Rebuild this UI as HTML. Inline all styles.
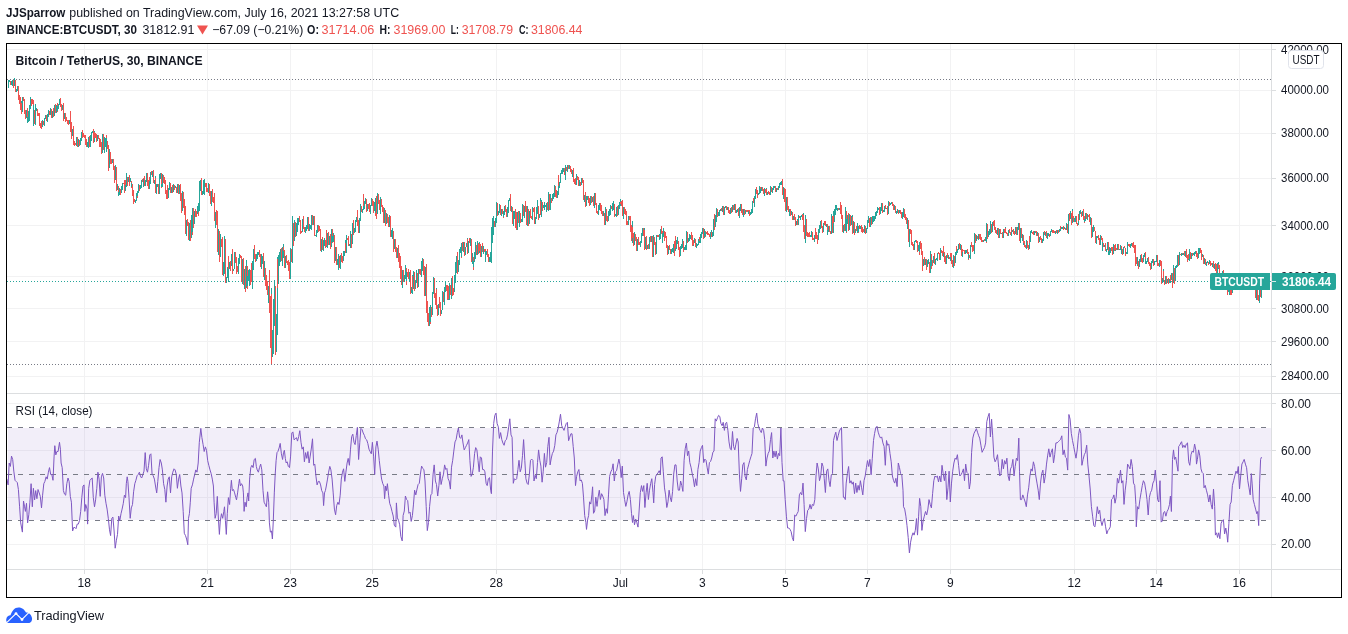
<!DOCTYPE html><html><head><meta charset="utf-8"><title>BTCUSDT chart</title><style>html,body{margin:0;padding:0;background:#fff;}svg{display:block;}text{font-family:'Liberation Sans', Arial, sans-serif;}</style></head><body>
<svg width="1348" height="634" viewBox="0 0 1348 634">
<rect width="1348" height="634" fill="#fff"/>
<path d="M84.5 44V569M207.5 44V569M290.5 44V569M372.5 44V569M496.5 44V569M620.5 44V569M702.5 44V569M785.5 44V569M867.5 44V569M950.5 44V569M1074.5 44V569M1156.5 44V569M1239.5 44V569M7 49.5H1271M7 90.5H1271M7 133.5H1271M7 178.5H1271M7 225.5H1271M7 276.5H1271M7 308.5H1271M7 341.5H1271M7 376.5H1271M7 403.5H1271M7 450.5H1271M7 497.5H1271M7 544.5H1271" stroke="#f2f2f3" stroke-width="1" fill="none" shape-rendering="crispEdges"/>
<rect x="8" y="428" width="1263" height="92" fill="#7e57c2" fill-opacity="0.1"/>
<path d="M7 427.5H1267" stroke="#787b86" stroke-width="1" stroke-dasharray="5 6" shape-rendering="crispEdges"/>
<path d="M7 474.5H1267" stroke="#787b86" stroke-width="1" stroke-dasharray="5 6" shape-rendering="crispEdges"/>
<path d="M7 520.5H1267" stroke="#787b86" stroke-width="1" stroke-dasharray="5 6" shape-rendering="crispEdges"/>
<path d="M7 79.5H1271M7 364.5H1271" stroke="#787b86" stroke-width="1" stroke-dasharray="1 2" shape-rendering="crispEdges"/>
<path d="M7 281.5H1271" stroke="#26a69a" stroke-width="1" stroke-dasharray="1 2" shape-rendering="crispEdges"/>
<path d="M8.5 84.4V88.0M8.5 80.0V86.1M9.5 79.5V81.9" stroke="#26a69a" fill="none" shape-rendering="crispEdges"/>
<path d="M10.5 81.0V84.8" stroke="#ef5350" fill="none" shape-rendering="crispEdges"/>
<path d="M11.5 81.4V84.9M12.5 79.9V85.8" stroke="#26a69a" fill="none" shape-rendering="crispEdges"/>
<path d="M13.5 80.4V87.6" stroke="#ef5350" fill="none" shape-rendering="crispEdges"/>
<path d="M14.5 78.4V85.9" stroke="#26a69a" fill="none" shape-rendering="crispEdges"/>
<path d="M15.5 79.6V82.7M15.5 81.2V92.4" stroke="#ef5350" fill="none" shape-rendering="crispEdges"/>
<path d="M16.5 89.4V92.2M17.5 86.3V91.0" stroke="#26a69a" fill="none" shape-rendering="crispEdges"/>
<path d="M18.5 85.9V99.7M19.5 95.4V103.9M20.5 97.4V110.1" stroke="#ef5350" fill="none" shape-rendering="crispEdges"/>
<path d="M21.5 100.8V113.9" stroke="#26a69a" fill="none" shape-rendering="crispEdges"/>
<path d="M21.5 102.5V113.6" stroke="#ef5350" fill="none" shape-rendering="crispEdges"/>
<path d="M22.5 96.6V112.1" stroke="#26a69a" fill="none" shape-rendering="crispEdges"/>
<path d="M23.5 96.8V101.1M24.5 98.5V113.7M25.5 109.7V119.1" stroke="#ef5350" fill="none" shape-rendering="crispEdges"/>
<path d="M26.5 110.2V118.1" stroke="#26a69a" fill="none" shape-rendering="crispEdges"/>
<path d="M27.5 108.3V121.4" stroke="#ef5350" fill="none" shape-rendering="crispEdges"/>
<path d="M27.5 117.3V122.7M28.5 111.0V122.3M29.5 105.4V120.9M30.5 97.4V109.0" stroke="#26a69a" fill="none" shape-rendering="crispEdges"/>
<path d="M31.5 99.4V106.2M32.5 98.6V103.6M33.5 100.0V124.2" stroke="#ef5350" fill="none" shape-rendering="crispEdges"/>
<path d="M33.5 105.3V126.3" stroke="#26a69a" fill="none" shape-rendering="crispEdges"/>
<path d="M34.5 109.9V123.6" stroke="#ef5350" fill="none" shape-rendering="crispEdges"/>
<path d="M35.5 104.3V125.3M36.5 107.8V110.7" stroke="#26a69a" fill="none" shape-rendering="crispEdges"/>
<path d="M37.5 108.7V115.5M38.5 113.4V116.1M39.5 112.6V120.7M39.5 115.2V125.5M40.5 122.9V128.3M41.5 121.1V129.2" stroke="#ef5350" fill="none" shape-rendering="crispEdges"/>
<path d="M42.5 120.0V126.5" stroke="#26a69a" fill="none" shape-rendering="crispEdges"/>
<path d="M43.5 121.3V125.1" stroke="#ef5350" fill="none" shape-rendering="crispEdges"/>
<path d="M44.5 118.2V126.1M45.5 116.3V119.2M45.5 115.4V116.9" stroke="#26a69a" fill="none" shape-rendering="crispEdges"/>
<path d="M46.5 115.0V121.0" stroke="#ef5350" fill="none" shape-rendering="crispEdges"/>
<path d="M47.5 114.1V121.6M48.5 110.2V117.4" stroke="#26a69a" fill="none" shape-rendering="crispEdges"/>
<path d="M49.5 110.9V114.6" stroke="#ef5350" fill="none" shape-rendering="crispEdges"/>
<path d="M50.5 108.1V115.1" stroke="#26a69a" fill="none" shape-rendering="crispEdges"/>
<path d="M51.5 108.7V116.6M51.5 114.6V117.8" stroke="#ef5350" fill="none" shape-rendering="crispEdges"/>
<path d="M52.5 110.7V118.1" stroke="#26a69a" fill="none" shape-rendering="crispEdges"/>
<path d="M53.5 107.8V116.8" stroke="#ef5350" fill="none" shape-rendering="crispEdges"/>
<path d="M54.5 104.6V115.5" stroke="#26a69a" fill="none" shape-rendering="crispEdges"/>
<path d="M55.5 104.2V113.0" stroke="#ef5350" fill="none" shape-rendering="crispEdges"/>
<path d="M56.5 104.5V113.0" stroke="#26a69a" fill="none" shape-rendering="crispEdges"/>
<path d="M57.5 102.7V112.2" stroke="#ef5350" fill="none" shape-rendering="crispEdges"/>
<path d="M57.5 106.3V111.3M58.5 103.8V108.5M59.5 99.1V105.4" stroke="#26a69a" fill="none" shape-rendering="crispEdges"/>
<path d="M60.5 98.4V107.4M61.5 103.5V110.6" stroke="#ef5350" fill="none" shape-rendering="crispEdges"/>
<path d="M62.5 104.8V109.7" stroke="#26a69a" fill="none" shape-rendering="crispEdges"/>
<path d="M63.5 104.8V108.4M63.5 103.1V120.5" stroke="#ef5350" fill="none" shape-rendering="crispEdges"/>
<path d="M64.5 113.0V118.8" stroke="#26a69a" fill="none" shape-rendering="crispEdges"/>
<path d="M65.5 112.7V121.7M66.5 116.7V121.3M67.5 119.5V124.2M68.5 119.9V124.9" stroke="#ef5350" fill="none" shape-rendering="crispEdges"/>
<path d="M69.5 120.1V124.0M70.5 111.1V127.3" stroke="#26a69a" fill="none" shape-rendering="crispEdges"/>
<path d="M70.5 111.0V132.1M71.5 122.2V138.8" stroke="#ef5350" fill="none" shape-rendering="crispEdges"/>
<path d="M72.5 128.7V136.4" stroke="#26a69a" fill="none" shape-rendering="crispEdges"/>
<path d="M73.5 125.5V145.3M74.5 140.6V146.4M75.5 142.9V145.0" stroke="#ef5350" fill="none" shape-rendering="crispEdges"/>
<path d="M76.5 137.5V145.9M76.5 136.5V138.7" stroke="#26a69a" fill="none" shape-rendering="crispEdges"/>
<path d="M77.5 136.7V147.0" stroke="#ef5350" fill="none" shape-rendering="crispEdges"/>
<path d="M78.5 138.7V146.8" stroke="#26a69a" fill="none" shape-rendering="crispEdges"/>
<path d="M79.5 140.1V145.6" stroke="#ef5350" fill="none" shape-rendering="crispEdges"/>
<path d="M80.5 138.2V144.7M81.5 132.3V140.9M82.5 129.6V134.7" stroke="#26a69a" fill="none" shape-rendering="crispEdges"/>
<path d="M82.5 130.0V137.7M83.5 132.8V136.8M84.5 135.3V138.4M85.5 135.1V145.1M86.5 138.9V146.9" stroke="#ef5350" fill="none" shape-rendering="crispEdges"/>
<path d="M87.5 142.2V146.8" stroke="#26a69a" fill="none" shape-rendering="crispEdges"/>
<path d="M88.5 142.1V146.8" stroke="#ef5350" fill="none" shape-rendering="crispEdges"/>
<path d="M88.5 136.5V147.7" stroke="#26a69a" fill="none" shape-rendering="crispEdges"/>
<path d="M89.5 136.2V147.4" stroke="#ef5350" fill="none" shape-rendering="crispEdges"/>
<path d="M90.5 135.2V147.4M91.5 132.1V140.8M92.5 130.6V132.8" stroke="#26a69a" fill="none" shape-rendering="crispEdges"/>
<path d="M93.5 129.1V143.2" stroke="#ef5350" fill="none" shape-rendering="crispEdges"/>
<path d="M94.5 131.1V142.2" stroke="#26a69a" fill="none" shape-rendering="crispEdges"/>
<path d="M94.5 131.7V138.1M95.5 133.0V137.9M96.5 133.6V142.3" stroke="#ef5350" fill="none" shape-rendering="crispEdges"/>
<path d="M97.5 134.5V141.4" stroke="#26a69a" fill="none" shape-rendering="crispEdges"/>
<path d="M98.5 135.2V138.7M99.5 137.7V146.6" stroke="#ef5350" fill="none" shape-rendering="crispEdges"/>
<path d="M100.5 142.0V146.1" stroke="#26a69a" fill="none" shape-rendering="crispEdges"/>
<path d="M100.5 139.4V146.7M101.5 142.4V154.3" stroke="#ef5350" fill="none" shape-rendering="crispEdges"/>
<path d="M102.5 134.4V152.8" stroke="#26a69a" fill="none" shape-rendering="crispEdges"/>
<path d="M103.5 134.3V149.9" stroke="#ef5350" fill="none" shape-rendering="crispEdges"/>
<path d="M104.5 136.8V153.3M105.5 138.4V146.8" stroke="#26a69a" fill="none" shape-rendering="crispEdges"/>
<path d="M106.5 134.9V149.9" stroke="#ef5350" fill="none" shape-rendering="crispEdges"/>
<path d="M106.5 137.9V152.1" stroke="#26a69a" fill="none" shape-rendering="crispEdges"/>
<path d="M107.5 141.1V148.9M108.5 144.7V170.8" stroke="#ef5350" fill="none" shape-rendering="crispEdges"/>
<path d="M109.5 148.8V167.8" stroke="#26a69a" fill="none" shape-rendering="crispEdges"/>
<path d="M110.5 151.7V164.3M111.5 159.4V163.6M112.5 161.1V162.6" stroke="#ef5350" fill="none" shape-rendering="crispEdges"/>
<path d="M112.5 159.4V163.1" stroke="#26a69a" fill="none" shape-rendering="crispEdges"/>
<path d="M113.5 159.0V169.9M114.5 166.4V183.2" stroke="#ef5350" fill="none" shape-rendering="crispEdges"/>
<path d="M115.5 164.8V180.2" stroke="#26a69a" fill="none" shape-rendering="crispEdges"/>
<path d="M116.5 166.8V191.1" stroke="#ef5350" fill="none" shape-rendering="crispEdges"/>
<path d="M117.5 183.7V190.3" stroke="#26a69a" fill="none" shape-rendering="crispEdges"/>
<path d="M118.5 186.3V196.3" stroke="#ef5350" fill="none" shape-rendering="crispEdges"/>
<path d="M118.5 192.4V196.3M119.5 187.7V195.3" stroke="#26a69a" fill="none" shape-rendering="crispEdges"/>
<path d="M120.5 188.9V195.1" stroke="#ef5350" fill="none" shape-rendering="crispEdges"/>
<path d="M121.5 186.3V193.0M122.5 183.1V189.7" stroke="#26a69a" fill="none" shape-rendering="crispEdges"/>
<path d="M123.5 182.8V184.3M124.5 180.4V192.5" stroke="#ef5350" fill="none" shape-rendering="crispEdges"/>
<path d="M125.5 179.7V191.3" stroke="#26a69a" fill="none" shape-rendering="crispEdges"/>
<path d="M125.5 180.0V184.5" stroke="#ef5350" fill="none" shape-rendering="crispEdges"/>
<path d="M126.5 172.9V187.2" stroke="#26a69a" fill="none" shape-rendering="crispEdges"/>
<path d="M127.5 176.8V186.3" stroke="#ef5350" fill="none" shape-rendering="crispEdges"/>
<path d="M128.5 176.6V182.0" stroke="#26a69a" fill="none" shape-rendering="crispEdges"/>
<path d="M129.5 175.2V185.6" stroke="#ef5350" fill="none" shape-rendering="crispEdges"/>
<path d="M130.5 177.6V182.3" stroke="#26a69a" fill="none" shape-rendering="crispEdges"/>
<path d="M131.5 180.9V188.3" stroke="#ef5350" fill="none" shape-rendering="crispEdges"/>
<path d="M131.5 183.3V187.3" stroke="#26a69a" fill="none" shape-rendering="crispEdges"/>
<path d="M132.5 183.5V195.7M133.5 190.4V203.8M134.5 198.8V202.4" stroke="#ef5350" fill="none" shape-rendering="crispEdges"/>
<path d="M135.5 200.1V202.5M136.5 192.9V200.8" stroke="#26a69a" fill="none" shape-rendering="crispEdges"/>
<path d="M137.5 190.5V198.1" stroke="#ef5350" fill="none" shape-rendering="crispEdges"/>
<path d="M137.5 191.3V195.6M138.5 183.6V193.0" stroke="#26a69a" fill="none" shape-rendering="crispEdges"/>
<path d="M139.5 184.6V191.2" stroke="#ef5350" fill="none" shape-rendering="crispEdges"/>
<path d="M140.5 184.9V189.3M141.5 180.2V187.5" stroke="#26a69a" fill="none" shape-rendering="crispEdges"/>
<path d="M142.5 178.8V181.9M143.5 178.4V185.5" stroke="#ef5350" fill="none" shape-rendering="crispEdges"/>
<path d="M143.5 178.8V186.9" stroke="#26a69a" fill="none" shape-rendering="crispEdges"/>
<path d="M144.5 176.1V185.6" stroke="#ef5350" fill="none" shape-rendering="crispEdges"/>
<path d="M145.5 180.4V186.3M146.5 173.4V182.1" stroke="#26a69a" fill="none" shape-rendering="crispEdges"/>
<path d="M147.5 172.7V186.1M148.5 180.2V188.6" stroke="#ef5350" fill="none" shape-rendering="crispEdges"/>
<path d="M149.5 177.5V189.0" stroke="#26a69a" fill="none" shape-rendering="crispEdges"/>
<path d="M149.5 177.4V181.4" stroke="#ef5350" fill="none" shape-rendering="crispEdges"/>
<path d="M150.5 172.2V184.0" stroke="#26a69a" fill="none" shape-rendering="crispEdges"/>
<path d="M151.5 171.1V174.9" stroke="#ef5350" fill="none" shape-rendering="crispEdges"/>
<path d="M152.5 171.0V177.4" stroke="#26a69a" fill="none" shape-rendering="crispEdges"/>
<path d="M153.5 170.0V183.2" stroke="#ef5350" fill="none" shape-rendering="crispEdges"/>
<path d="M154.5 179.8V183.8M155.5 175.6V182.4" stroke="#26a69a" fill="none" shape-rendering="crispEdges"/>
<path d="M155.5 178.4V192.5" stroke="#ef5350" fill="none" shape-rendering="crispEdges"/>
<path d="M156.5 183.9V193.8M157.5 184.3V187.3" stroke="#26a69a" fill="none" shape-rendering="crispEdges"/>
<path d="M158.5 184.3V194.1" stroke="#ef5350" fill="none" shape-rendering="crispEdges"/>
<path d="M159.5 174.4V193.7M160.5 172.7V179.3" stroke="#26a69a" fill="none" shape-rendering="crispEdges"/>
<path d="M161.5 173.4V187.8" stroke="#ef5350" fill="none" shape-rendering="crispEdges"/>
<path d="M161.5 183.8V186.9M162.5 173.7V187.1" stroke="#26a69a" fill="none" shape-rendering="crispEdges"/>
<path d="M163.5 175.0V182.7M164.5 177.1V183.8M165.5 179.7V193.7M166.5 190.1V199.0" stroke="#ef5350" fill="none" shape-rendering="crispEdges"/>
<path d="M167.5 186.4V198.0" stroke="#26a69a" fill="none" shape-rendering="crispEdges"/>
<path d="M167.5 185.4V199.4" stroke="#ef5350" fill="none" shape-rendering="crispEdges"/>
<path d="M168.5 187.7V198.0M169.5 181.5V189.7" stroke="#26a69a" fill="none" shape-rendering="crispEdges"/>
<path d="M170.5 183.2V193.4" stroke="#ef5350" fill="none" shape-rendering="crispEdges"/>
<path d="M171.5 187.0V193.3" stroke="#26a69a" fill="none" shape-rendering="crispEdges"/>
<path d="M172.5 185.2V192.9" stroke="#ef5350" fill="none" shape-rendering="crispEdges"/>
<path d="M173.5 185.1V192.4M173.5 184.1V187.8" stroke="#26a69a" fill="none" shape-rendering="crispEdges"/>
<path d="M174.5 185.0V189.5" stroke="#ef5350" fill="none" shape-rendering="crispEdges"/>
<path d="M175.5 186.3V187.8" stroke="#26a69a" fill="none" shape-rendering="crispEdges"/>
<path d="M176.5 186.7V192.5" stroke="#ef5350" fill="none" shape-rendering="crispEdges"/>
<path d="M177.5 184.1V193.4" stroke="#26a69a" fill="none" shape-rendering="crispEdges"/>
<path d="M178.5 184.3V194.2" stroke="#ef5350" fill="none" shape-rendering="crispEdges"/>
<path d="M179.5 185.0V193.9M180.5 186.0V187.5" stroke="#26a69a" fill="none" shape-rendering="crispEdges"/>
<path d="M180.5 184.2V201.3M181.5 193.1V213.3" stroke="#ef5350" fill="none" shape-rendering="crispEdges"/>
<path d="M182.5 191.0V211.1" stroke="#26a69a" fill="none" shape-rendering="crispEdges"/>
<path d="M183.5 192.1V207.8M184.5 198.8V215.2M185.5 205.5V233.8" stroke="#ef5350" fill="none" shape-rendering="crispEdges"/>
<path d="M186.5 228.2V232.5M186.5 219.5V236.1" stroke="#26a69a" fill="none" shape-rendering="crispEdges"/>
<path d="M187.5 218.5V226.4M188.5 221.5V239.9" stroke="#ef5350" fill="none" shape-rendering="crispEdges"/>
<path d="M189.5 222.5V241.0" stroke="#26a69a" fill="none" shape-rendering="crispEdges"/>
<path d="M190.5 219.7V240.6" stroke="#ef5350" fill="none" shape-rendering="crispEdges"/>
<path d="M191.5 214.7V237.9" stroke="#26a69a" fill="none" shape-rendering="crispEdges"/>
<path d="M192.5 212.1V234.6" stroke="#ef5350" fill="none" shape-rendering="crispEdges"/>
<path d="M192.5 208.4V231.8" stroke="#26a69a" fill="none" shape-rendering="crispEdges"/>
<path d="M193.5 207.5V228.0" stroke="#ef5350" fill="none" shape-rendering="crispEdges"/>
<path d="M194.5 211.2V224.1" stroke="#26a69a" fill="none" shape-rendering="crispEdges"/>
<path d="M195.5 209.4V216.5M196.5 210.9V216.8" stroke="#ef5350" fill="none" shape-rendering="crispEdges"/>
<path d="M197.5 206.3V214.1" stroke="#26a69a" fill="none" shape-rendering="crispEdges"/>
<path d="M198.5 207.5V215.6" stroke="#ef5350" fill="none" shape-rendering="crispEdges"/>
<path d="M198.5 203.1V212.3M199.5 181.1V210.9M200.5 180.0V190.9" stroke="#26a69a" fill="none" shape-rendering="crispEdges"/>
<path d="M201.5 177.6V194.6" stroke="#ef5350" fill="none" shape-rendering="crispEdges"/>
<path d="M202.5 190.5V194.8M203.5 180.4V194.0" stroke="#26a69a" fill="none" shape-rendering="crispEdges"/>
<path d="M204.5 183.4V193.4" stroke="#ef5350" fill="none" shape-rendering="crispEdges"/>
<path d="M204.5 178.8V195.1" stroke="#26a69a" fill="none" shape-rendering="crispEdges"/>
<path d="M205.5 182.6V187.0M206.5 183.3V191.8M207.5 187.6V191.9" stroke="#ef5350" fill="none" shape-rendering="crispEdges"/>
<path d="M208.5 183.4V192.5" stroke="#26a69a" fill="none" shape-rendering="crispEdges"/>
<path d="M209.5 184.0V195.7M210.5 191.2V196.9M210.5 194.8V203.9" stroke="#ef5350" fill="none" shape-rendering="crispEdges"/>
<path d="M211.5 191.0V205.8" stroke="#26a69a" fill="none" shape-rendering="crispEdges"/>
<path d="M212.5 188.7V202.1M213.5 196.5V202.7M214.5 193.0V220.5" stroke="#ef5350" fill="none" shape-rendering="crispEdges"/>
<path d="M215.5 211.9V227.5M216.5 213.3V214.8" stroke="#26a69a" fill="none" shape-rendering="crispEdges"/>
<path d="M216.5 210.4V225.1M217.5 210.9V252.3" stroke="#ef5350" fill="none" shape-rendering="crispEdges"/>
<path d="M218.5 228.5V255.2" stroke="#26a69a" fill="none" shape-rendering="crispEdges"/>
<path d="M219.5 230.6V261.8" stroke="#ef5350" fill="none" shape-rendering="crispEdges"/>
<path d="M220.5 234.3V256.5" stroke="#26a69a" fill="none" shape-rendering="crispEdges"/>
<path d="M221.5 238.8V246.7M222.5 237.0V250.4M222.5 247.4V275.3" stroke="#ef5350" fill="none" shape-rendering="crispEdges"/>
<path d="M223.5 261.5V276.4M224.5 236.2V274.4" stroke="#26a69a" fill="none" shape-rendering="crispEdges"/>
<path d="M225.5 238.8V282.7" stroke="#ef5350" fill="none" shape-rendering="crispEdges"/>
<path d="M226.5 277.1V283.0M227.5 266.8V277.8M228.5 257.3V281.5" stroke="#26a69a" fill="none" shape-rendering="crispEdges"/>
<path d="M228.5 255.9V268.8" stroke="#ef5350" fill="none" shape-rendering="crispEdges"/>
<path d="M229.5 261.6V268.9" stroke="#26a69a" fill="none" shape-rendering="crispEdges"/>
<path d="M230.5 261.2V271.3" stroke="#ef5350" fill="none" shape-rendering="crispEdges"/>
<path d="M231.5 254.4V265.9" stroke="#26a69a" fill="none" shape-rendering="crispEdges"/>
<path d="M232.5 249.2V274.4" stroke="#ef5350" fill="none" shape-rendering="crispEdges"/>
<path d="M233.5 268.6V270.7M234.5 251.5V269.2" stroke="#26a69a" fill="none" shape-rendering="crispEdges"/>
<path d="M235.5 255.4V259.8M235.5 251.5V263.0M236.5 257.4V274.4M237.5 266.3V271.6" stroke="#ef5350" fill="none" shape-rendering="crispEdges"/>
<path d="M238.5 258.1V274.1M239.5 253.9V264.3" stroke="#26a69a" fill="none" shape-rendering="crispEdges"/>
<path d="M240.5 254.7V258.3M241.5 256.4V269.0M241.5 256.4V281.8" stroke="#ef5350" fill="none" shape-rendering="crispEdges"/>
<path d="M242.5 259.3V284.1" stroke="#26a69a" fill="none" shape-rendering="crispEdges"/>
<path d="M243.5 257.6V284.8" stroke="#ef5350" fill="none" shape-rendering="crispEdges"/>
<path d="M244.5 268.5V288.8" stroke="#26a69a" fill="none" shape-rendering="crispEdges"/>
<path d="M245.5 266.0V291.8" stroke="#ef5350" fill="none" shape-rendering="crispEdges"/>
<path d="M246.5 260.0V288.1" stroke="#26a69a" fill="none" shape-rendering="crispEdges"/>
<path d="M247.5 266.2V289.3" stroke="#ef5350" fill="none" shape-rendering="crispEdges"/>
<path d="M247.5 275.5V285.5M248.5 269.9V281.2M249.5 269.0V285.5" stroke="#26a69a" fill="none" shape-rendering="crispEdges"/>
<path d="M250.5 270.1V284.7M251.5 263.0V282.3" stroke="#ef5350" fill="none" shape-rendering="crispEdges"/>
<path d="M252.5 260.6V288.8M253.5 267.0V269.8M253.5 249.0V267.1" stroke="#26a69a" fill="none" shape-rendering="crispEdges"/>
<path d="M254.5 245.1V258.5M255.5 254.3V262.2" stroke="#ef5350" fill="none" shape-rendering="crispEdges"/>
<path d="M256.5 253.5V261.3M257.5 252.0V258.5M258.5 252.0V255.4" stroke="#26a69a" fill="none" shape-rendering="crispEdges"/>
<path d="M259.5 250.2V255.9M259.5 253.3V256.5M260.5 254.4V266.5" stroke="#ef5350" fill="none" shape-rendering="crispEdges"/>
<path d="M261.5 254.4V268.8M262.5 256.2V263.6" stroke="#26a69a" fill="none" shape-rendering="crispEdges"/>
<path d="M263.5 252.7V276.9" stroke="#ef5350" fill="none" shape-rendering="crispEdges"/>
<path d="M264.5 261.3V279.8" stroke="#26a69a" fill="none" shape-rendering="crispEdges"/>
<path d="M265.5 268.0V286.4M265.5 275.7V283.8M266.5 275.2V290.4M267.5 281.1V295.0" stroke="#ef5350" fill="none" shape-rendering="crispEdges"/>
<path d="M268.5 286.3V302.8" stroke="#26a69a" fill="none" shape-rendering="crispEdges"/>
<path d="M269.5 270.3V312.6M270.5 296.0V348.4" stroke="#ef5350" fill="none" shape-rendering="crispEdges"/>
<path d="M271.5 288.4V357.5" stroke="#26a69a" fill="none" shape-rendering="crispEdges"/>
<path d="M271.5 293.7V363.9" stroke="#ef5350" fill="none" shape-rendering="crispEdges"/>
<path d="M272.5 329.5V356.8M273.5 299.0V353.6M274.5 280.3V326.3" stroke="#26a69a" fill="none" shape-rendering="crispEdges"/>
<path d="M275.5 286.1V354.7" stroke="#ef5350" fill="none" shape-rendering="crispEdges"/>
<path d="M276.5 313.9V351.8M277.5 256.7V335.3" stroke="#26a69a" fill="none" shape-rendering="crispEdges"/>
<path d="M277.5 258.7V287.9" stroke="#ef5350" fill="none" shape-rendering="crispEdges"/>
<path d="M278.5 254.7V283.5M279.5 252.1V266.3M280.5 249.4V262.2" stroke="#26a69a" fill="none" shape-rendering="crispEdges"/>
<path d="M281.5 248.2V260.7" stroke="#ef5350" fill="none" shape-rendering="crispEdges"/>
<path d="M282.5 247.4V266.2M283.5 243.9V258.2" stroke="#26a69a" fill="none" shape-rendering="crispEdges"/>
<path d="M283.5 247.0V251.1M284.5 250.3V268.0" stroke="#ef5350" fill="none" shape-rendering="crispEdges"/>
<path d="M285.5 256.4V267.8" stroke="#26a69a" fill="none" shape-rendering="crispEdges"/>
<path d="M286.5 255.2V263.2M287.5 260.7V264.6M288.5 259.7V270.9M289.5 262.3V279.0" stroke="#ef5350" fill="none" shape-rendering="crispEdges"/>
<path d="M290.5 258.4V279.1M290.5 248.0V266.3" stroke="#26a69a" fill="none" shape-rendering="crispEdges"/>
<path d="M291.5 248.7V262.1" stroke="#ef5350" fill="none" shape-rendering="crispEdges"/>
<path d="M292.5 215.8V263.1" stroke="#26a69a" fill="none" shape-rendering="crispEdges"/>
<path d="M293.5 223.4V245.8" stroke="#ef5350" fill="none" shape-rendering="crispEdges"/>
<path d="M294.5 220.1V240.9" stroke="#26a69a" fill="none" shape-rendering="crispEdges"/>
<path d="M295.5 222.2V236.7" stroke="#ef5350" fill="none" shape-rendering="crispEdges"/>
<path d="M296.5 231.4V236.3M296.5 223.4V236.2M297.5 218.1V232.0M298.5 217.6V225.4" stroke="#26a69a" fill="none" shape-rendering="crispEdges"/>
<path d="M299.5 215.8V221.6M300.5 219.5V234.1M301.5 230.6V233.2" stroke="#ef5350" fill="none" shape-rendering="crispEdges"/>
<path d="M302.5 223.2V232.1M302.5 219.0V228.7" stroke="#26a69a" fill="none" shape-rendering="crispEdges"/>
<path d="M303.5 216.3V228.6M304.5 227.4V231.7" stroke="#ef5350" fill="none" shape-rendering="crispEdges"/>
<path d="M305.5 226.5V232.9M306.5 225.0V231.0M307.5 217.3V229.3" stroke="#26a69a" fill="none" shape-rendering="crispEdges"/>
<path d="M308.5 216.6V222.9M308.5 219.3V231.2" stroke="#ef5350" fill="none" shape-rendering="crispEdges"/>
<path d="M309.5 223.9V230.5M310.5 225.4V229.3M311.5 215.4V229.9" stroke="#26a69a" fill="none" shape-rendering="crispEdges"/>
<path d="M312.5 215.3V225.4" stroke="#ef5350" fill="none" shape-rendering="crispEdges"/>
<path d="M313.5 216.1V224.6" stroke="#26a69a" fill="none" shape-rendering="crispEdges"/>
<path d="M314.5 216.3V228.5M314.5 225.8V236.2" stroke="#ef5350" fill="none" shape-rendering="crispEdges"/>
<path d="M315.5 234.5V236.0M316.5 229.5V236.8M317.5 225.2V233.4" stroke="#26a69a" fill="none" shape-rendering="crispEdges"/>
<path d="M318.5 225.2V231.9M319.5 225.9V230.8M320.5 229.2V235.3M320.5 230.6V250.9" stroke="#ef5350" fill="none" shape-rendering="crispEdges"/>
<path d="M321.5 239.2V252.3" stroke="#26a69a" fill="none" shape-rendering="crispEdges"/>
<path d="M322.5 237.3V250.0" stroke="#ef5350" fill="none" shape-rendering="crispEdges"/>
<path d="M323.5 240.1V250.5M324.5 237.7V245.5" stroke="#26a69a" fill="none" shape-rendering="crispEdges"/>
<path d="M325.5 240.0V247.9" stroke="#ef5350" fill="none" shape-rendering="crispEdges"/>
<path d="M326.5 230.6V246.6" stroke="#26a69a" fill="none" shape-rendering="crispEdges"/>
<path d="M326.5 230.4V245.8" stroke="#ef5350" fill="none" shape-rendering="crispEdges"/>
<path d="M327.5 233.1V247.8" stroke="#26a69a" fill="none" shape-rendering="crispEdges"/>
<path d="M328.5 232.3V245.2" stroke="#ef5350" fill="none" shape-rendering="crispEdges"/>
<path d="M329.5 235.7V244.5" stroke="#26a69a" fill="none" shape-rendering="crispEdges"/>
<path d="M330.5 233.6V249.0" stroke="#ef5350" fill="none" shape-rendering="crispEdges"/>
<path d="M331.5 228.9V247.1" stroke="#26a69a" fill="none" shape-rendering="crispEdges"/>
<path d="M332.5 229.2V242.6" stroke="#ef5350" fill="none" shape-rendering="crispEdges"/>
<path d="M332.5 236.2V241.7M333.5 232.6V242.4" stroke="#26a69a" fill="none" shape-rendering="crispEdges"/>
<path d="M334.5 235.1V263.0" stroke="#ef5350" fill="none" shape-rendering="crispEdges"/>
<path d="M335.5 246.7V260.5" stroke="#26a69a" fill="none" shape-rendering="crispEdges"/>
<path d="M336.5 247.4V265.0" stroke="#ef5350" fill="none" shape-rendering="crispEdges"/>
<path d="M337.5 258.5V264.5" stroke="#26a69a" fill="none" shape-rendering="crispEdges"/>
<path d="M338.5 262.6V267.8" stroke="#ef5350" fill="none" shape-rendering="crispEdges"/>
<path d="M338.5 254.0V269.7" stroke="#26a69a" fill="none" shape-rendering="crispEdges"/>
<path d="M339.5 255.6V268.1" stroke="#ef5350" fill="none" shape-rendering="crispEdges"/>
<path d="M340.5 255.1V268.7" stroke="#26a69a" fill="none" shape-rendering="crispEdges"/>
<path d="M341.5 252.9V261.6M342.5 256.2V262.8" stroke="#ef5350" fill="none" shape-rendering="crispEdges"/>
<path d="M343.5 250.7V261.0M344.5 250.6V255.5M345.5 240.4V253.4" stroke="#26a69a" fill="none" shape-rendering="crispEdges"/>
<path d="M345.5 242.6V252.6" stroke="#ef5350" fill="none" shape-rendering="crispEdges"/>
<path d="M346.5 235.3V253.0" stroke="#26a69a" fill="none" shape-rendering="crispEdges"/>
<path d="M347.5 238.1V239.6M348.5 236.2V246.3" stroke="#ef5350" fill="none" shape-rendering="crispEdges"/>
<path d="M349.5 243.5V245.8M350.5 230.6V247.7" stroke="#26a69a" fill="none" shape-rendering="crispEdges"/>
<path d="M351.5 234.2V247.6M351.5 236.4V244.3" stroke="#ef5350" fill="none" shape-rendering="crispEdges"/>
<path d="M352.5 223.0V243.5" stroke="#26a69a" fill="none" shape-rendering="crispEdges"/>
<path d="M353.5 220.2V235.0" stroke="#ef5350" fill="none" shape-rendering="crispEdges"/>
<path d="M354.5 227.7V233.2M355.5 220.0V231.9M356.5 217.1V222.1M357.5 211.4V219.9" stroke="#26a69a" fill="none" shape-rendering="crispEdges"/>
<path d="M357.5 210.4V226.0M358.5 220.0V232.7" stroke="#ef5350" fill="none" shape-rendering="crispEdges"/>
<path d="M359.5 218.4V232.5M360.5 203.5V221.3" stroke="#26a69a" fill="none" shape-rendering="crispEdges"/>
<path d="M361.5 206.1V212.3" stroke="#ef5350" fill="none" shape-rendering="crispEdges"/>
<path d="M362.5 208.8V212.9M363.5 197.4V209.9" stroke="#26a69a" fill="none" shape-rendering="crispEdges"/>
<path d="M363.5 193.6V205.5" stroke="#ef5350" fill="none" shape-rendering="crispEdges"/>
<path d="M364.5 200.6V208.6M365.5 198.4V203.7" stroke="#26a69a" fill="none" shape-rendering="crispEdges"/>
<path d="M366.5 199.3V211.6" stroke="#ef5350" fill="none" shape-rendering="crispEdges"/>
<path d="M367.5 203.9V210.6" stroke="#26a69a" fill="none" shape-rendering="crispEdges"/>
<path d="M368.5 204.2V208.8" stroke="#ef5350" fill="none" shape-rendering="crispEdges"/>
<path d="M369.5 202.5V208.9" stroke="#26a69a" fill="none" shape-rendering="crispEdges"/>
<path d="M369.5 203.3V211.6" stroke="#ef5350" fill="none" shape-rendering="crispEdges"/>
<path d="M370.5 204.7V213.5M371.5 197.9V206.0" stroke="#26a69a" fill="none" shape-rendering="crispEdges"/>
<path d="M372.5 199.2V206.4M373.5 200.7V212.8" stroke="#ef5350" fill="none" shape-rendering="crispEdges"/>
<path d="M374.5 201.7V211.3" stroke="#26a69a" fill="none" shape-rendering="crispEdges"/>
<path d="M375.5 199.4V216.1" stroke="#ef5350" fill="none" shape-rendering="crispEdges"/>
<path d="M375.5 198.3V213.2" stroke="#26a69a" fill="none" shape-rendering="crispEdges"/>
<path d="M376.5 196.0V219.3" stroke="#ef5350" fill="none" shape-rendering="crispEdges"/>
<path d="M377.5 192.7V214.0" stroke="#26a69a" fill="none" shape-rendering="crispEdges"/>
<path d="M378.5 194.4V203.8M379.5 200.3V210.4" stroke="#ef5350" fill="none" shape-rendering="crispEdges"/>
<path d="M380.5 197.4V213.9M381.5 199.7V202.3" stroke="#26a69a" fill="none" shape-rendering="crispEdges"/>
<path d="M381.5 198.9V206.5M382.5 204.9V212.1M383.5 207.4V222.5" stroke="#ef5350" fill="none" shape-rendering="crispEdges"/>
<path d="M384.5 208.4V223.0" stroke="#26a69a" fill="none" shape-rendering="crispEdges"/>
<path d="M385.5 209.7V225.7" stroke="#ef5350" fill="none" shape-rendering="crispEdges"/>
<path d="M386.5 213.3V224.1" stroke="#26a69a" fill="none" shape-rendering="crispEdges"/>
<path d="M387.5 214.5V217.2M387.5 214.4V222.9M388.5 217.4V227.0" stroke="#ef5350" fill="none" shape-rendering="crispEdges"/>
<path d="M389.5 215.2V227.3" stroke="#26a69a" fill="none" shape-rendering="crispEdges"/>
<path d="M390.5 216.2V236.9" stroke="#ef5350" fill="none" shape-rendering="crispEdges"/>
<path d="M391.5 229.6V236.6M392.5 227.5V238.9" stroke="#26a69a" fill="none" shape-rendering="crispEdges"/>
<path d="M393.5 230.7V252.4M393.5 244.1V251.4" stroke="#ef5350" fill="none" shape-rendering="crispEdges"/>
<path d="M394.5 239.1V249.4" stroke="#26a69a" fill="none" shape-rendering="crispEdges"/>
<path d="M395.5 238.5V252.2M396.5 246.5V257.5" stroke="#ef5350" fill="none" shape-rendering="crispEdges"/>
<path d="M397.5 247.6V257.6" stroke="#26a69a" fill="none" shape-rendering="crispEdges"/>
<path d="M398.5 244.7V261.8M399.5 253.0V268.0M400.5 255.6V265.7M400.5 263.9V278.5M401.5 266.4V285.3" stroke="#ef5350" fill="none" shape-rendering="crispEdges"/>
<path d="M402.5 269.6V288.4" stroke="#26a69a" fill="none" shape-rendering="crispEdges"/>
<path d="M403.5 270.3V281.8" stroke="#ef5350" fill="none" shape-rendering="crispEdges"/>
<path d="M404.5 274.5V282.4M405.5 265.3V278.8" stroke="#26a69a" fill="none" shape-rendering="crispEdges"/>
<path d="M406.5 268.3V284.5" stroke="#ef5350" fill="none" shape-rendering="crispEdges"/>
<path d="M406.5 271.7V280.9" stroke="#26a69a" fill="none" shape-rendering="crispEdges"/>
<path d="M407.5 272.0V276.8M408.5 269.3V278.7" stroke="#ef5350" fill="none" shape-rendering="crispEdges"/>
<path d="M409.5 272.4V281.7" stroke="#26a69a" fill="none" shape-rendering="crispEdges"/>
<path d="M410.5 270.4V293.5" stroke="#ef5350" fill="none" shape-rendering="crispEdges"/>
<path d="M411.5 287.3V293.3M412.5 275.0V293.5" stroke="#26a69a" fill="none" shape-rendering="crispEdges"/>
<path d="M412.5 276.0V289.5" stroke="#ef5350" fill="none" shape-rendering="crispEdges"/>
<path d="M413.5 271.3V288.5" stroke="#26a69a" fill="none" shape-rendering="crispEdges"/>
<path d="M414.5 272.2V290.8" stroke="#ef5350" fill="none" shape-rendering="crispEdges"/>
<path d="M415.5 279.6V289.0M416.5 270.2V283.0" stroke="#26a69a" fill="none" shape-rendering="crispEdges"/>
<path d="M417.5 272.7V288.1" stroke="#ef5350" fill="none" shape-rendering="crispEdges"/>
<path d="M418.5 274.5V287.2M418.5 268.8V277.7" stroke="#26a69a" fill="none" shape-rendering="crispEdges"/>
<path d="M419.5 268.9V274.2M420.5 269.0V275.2" stroke="#ef5350" fill="none" shape-rendering="crispEdges"/>
<path d="M421.5 261.1V276.8M422.5 257.5V270.6" stroke="#26a69a" fill="none" shape-rendering="crispEdges"/>
<path d="M423.5 259.4V274.5M424.5 270.8V272.3M424.5 265.8V295.6" stroke="#ef5350" fill="none" shape-rendering="crispEdges"/>
<path d="M425.5 267.0V296.2" stroke="#26a69a" fill="none" shape-rendering="crispEdges"/>
<path d="M426.5 264.3V313.1M427.5 300.5V321.6M428.5 313.1V326.1" stroke="#ef5350" fill="none" shape-rendering="crispEdges"/>
<path d="M429.5 306.7V326.1" stroke="#26a69a" fill="none" shape-rendering="crispEdges"/>
<path d="M430.5 312.7V324.4" stroke="#ef5350" fill="none" shape-rendering="crispEdges"/>
<path d="M430.5 304.8V322.2" stroke="#26a69a" fill="none" shape-rendering="crispEdges"/>
<path d="M431.5 306.7V316.5" stroke="#ef5350" fill="none" shape-rendering="crispEdges"/>
<path d="M432.5 292.3V315.0M433.5 277.2V294.3" stroke="#26a69a" fill="none" shape-rendering="crispEdges"/>
<path d="M434.5 277.6V297.5M435.5 293.3V304.8" stroke="#ef5350" fill="none" shape-rendering="crispEdges"/>
<path d="M436.5 287.6V304.7" stroke="#26a69a" fill="none" shape-rendering="crispEdges"/>
<path d="M436.5 288.6V308.7M437.5 304.6V315.6" stroke="#ef5350" fill="none" shape-rendering="crispEdges"/>
<path d="M438.5 303.5V315.0" stroke="#26a69a" fill="none" shape-rendering="crispEdges"/>
<path d="M439.5 297.3V307.8M440.5 301.9V315.9" stroke="#ef5350" fill="none" shape-rendering="crispEdges"/>
<path d="M441.5 309.7V314.2M442.5 299.0V310.0M442.5 290.6V303.8" stroke="#26a69a" fill="none" shape-rendering="crispEdges"/>
<path d="M443.5 291.9V302.1" stroke="#ef5350" fill="none" shape-rendering="crispEdges"/>
<path d="M444.5 286.6V304.6M445.5 282.1V292.2" stroke="#26a69a" fill="none" shape-rendering="crispEdges"/>
<path d="M446.5 285.1V291.0M447.5 285.4V300.4" stroke="#ef5350" fill="none" shape-rendering="crispEdges"/>
<path d="M448.5 287.2V300.0" stroke="#26a69a" fill="none" shape-rendering="crispEdges"/>
<path d="M448.5 285.7V299.3" stroke="#ef5350" fill="none" shape-rendering="crispEdges"/>
<path d="M449.5 282.8V300.0" stroke="#26a69a" fill="none" shape-rendering="crispEdges"/>
<path d="M450.5 284.8V294.7" stroke="#ef5350" fill="none" shape-rendering="crispEdges"/>
<path d="M451.5 277.5V298.9" stroke="#26a69a" fill="none" shape-rendering="crispEdges"/>
<path d="M452.5 276.0V295.7M453.5 287.5V294.9" stroke="#ef5350" fill="none" shape-rendering="crispEdges"/>
<path d="M454.5 274.5V291.5M455.5 274.5V283.2M455.5 262.0V276.6M456.5 256.2V272.9" stroke="#26a69a" fill="none" shape-rendering="crispEdges"/>
<path d="M457.5 251.7V274.4" stroke="#ef5350" fill="none" shape-rendering="crispEdges"/>
<path d="M458.5 260.2V271.7M459.5 248.9V265.4M460.5 247.3V253.1" stroke="#26a69a" fill="none" shape-rendering="crispEdges"/>
<path d="M461.5 248.9V257.8" stroke="#ef5350" fill="none" shape-rendering="crispEdges"/>
<path d="M461.5 243.0V257.1" stroke="#26a69a" fill="none" shape-rendering="crispEdges"/>
<path d="M462.5 241.6V251.3" stroke="#ef5350" fill="none" shape-rendering="crispEdges"/>
<path d="M463.5 241.6V251.8" stroke="#26a69a" fill="none" shape-rendering="crispEdges"/>
<path d="M464.5 241.7V255.5" stroke="#ef5350" fill="none" shape-rendering="crispEdges"/>
<path d="M465.5 246.9V255.1M466.5 243.0V247.2M467.5 238.2V244.0" stroke="#26a69a" fill="none" shape-rendering="crispEdges"/>
<path d="M467.5 239.2V254.1" stroke="#ef5350" fill="none" shape-rendering="crispEdges"/>
<path d="M468.5 240.5V252.9" stroke="#26a69a" fill="none" shape-rendering="crispEdges"/>
<path d="M469.5 237.8V242.9" stroke="#ef5350" fill="none" shape-rendering="crispEdges"/>
<path d="M470.5 237.7V246.2" stroke="#26a69a" fill="none" shape-rendering="crispEdges"/>
<path d="M471.5 238.8V261.7" stroke="#ef5350" fill="none" shape-rendering="crispEdges"/>
<path d="M472.5 253.4V264.3" stroke="#26a69a" fill="none" shape-rendering="crispEdges"/>
<path d="M473.5 256.6V270.1" stroke="#ef5350" fill="none" shape-rendering="crispEdges"/>
<path d="M473.5 260.8V267.0M474.5 251.8V261.5M475.5 241.8V259.2" stroke="#26a69a" fill="none" shape-rendering="crispEdges"/>
<path d="M476.5 245.1V254.7" stroke="#ef5350" fill="none" shape-rendering="crispEdges"/>
<path d="M477.5 240.9V254.6" stroke="#26a69a" fill="none" shape-rendering="crispEdges"/>
<path d="M478.5 242.7V253.9" stroke="#ef5350" fill="none" shape-rendering="crispEdges"/>
<path d="M479.5 242.1V253.0" stroke="#26a69a" fill="none" shape-rendering="crispEdges"/>
<path d="M479.5 243.5V250.6M480.5 244.1V257.4" stroke="#ef5350" fill="none" shape-rendering="crispEdges"/>
<path d="M481.5 245.9V257.3" stroke="#26a69a" fill="none" shape-rendering="crispEdges"/>
<path d="M482.5 243.2V252.0" stroke="#ef5350" fill="none" shape-rendering="crispEdges"/>
<path d="M483.5 246.4V253.9" stroke="#26a69a" fill="none" shape-rendering="crispEdges"/>
<path d="M484.5 248.7V252.4M485.5 248.8V261.6" stroke="#ef5350" fill="none" shape-rendering="crispEdges"/>
<path d="M485.5 250.5V261.8M486.5 251.3V255.4" stroke="#26a69a" fill="none" shape-rendering="crispEdges"/>
<path d="M487.5 249.4V256.9M488.5 254.2V262.1" stroke="#ef5350" fill="none" shape-rendering="crispEdges"/>
<path d="M489.5 257.2V261.5M490.5 252.0V262.3" stroke="#26a69a" fill="none" shape-rendering="crispEdges"/>
<path d="M491.5 249.8V257.9" stroke="#ef5350" fill="none" shape-rendering="crispEdges"/>
<path d="M491.5 227.4V263.1M492.5 218.1V243.3M493.5 215.7V234.9" stroke="#26a69a" fill="none" shape-rendering="crispEdges"/>
<path d="M494.5 221.0V226.5" stroke="#ef5350" fill="none" shape-rendering="crispEdges"/>
<path d="M495.5 218.0V227.1M496.5 202.2V222.9" stroke="#26a69a" fill="none" shape-rendering="crispEdges"/>
<path d="M497.5 203.2V209.9M497.5 205.0V216.0" stroke="#ef5350" fill="none" shape-rendering="crispEdges"/>
<path d="M498.5 211.0V215.1M499.5 204.0V213.1" stroke="#26a69a" fill="none" shape-rendering="crispEdges"/>
<path d="M500.5 205.3V214.7" stroke="#ef5350" fill="none" shape-rendering="crispEdges"/>
<path d="M501.5 209.1V215.9" stroke="#26a69a" fill="none" shape-rendering="crispEdges"/>
<path d="M502.5 208.9V214.3M503.5 212.3V218.2" stroke="#ef5350" fill="none" shape-rendering="crispEdges"/>
<path d="M503.5 211.0V216.9M504.5 206.0V215.1" stroke="#26a69a" fill="none" shape-rendering="crispEdges"/>
<path d="M505.5 205.3V211.8M506.5 208.9V217.4" stroke="#ef5350" fill="none" shape-rendering="crispEdges"/>
<path d="M507.5 207.3V217.3M508.5 200.0V212.6M509.5 197.6V200.5" stroke="#26a69a" fill="none" shape-rendering="crispEdges"/>
<path d="M510.5 194.3V205.6M510.5 199.5V211.2" stroke="#ef5350" fill="none" shape-rendering="crispEdges"/>
<path d="M511.5 206.2V211.5" stroke="#26a69a" fill="none" shape-rendering="crispEdges"/>
<path d="M512.5 206.7V223.6" stroke="#ef5350" fill="none" shape-rendering="crispEdges"/>
<path d="M513.5 211.2V225.5M514.5 210.9V218.8" stroke="#26a69a" fill="none" shape-rendering="crispEdges"/>
<path d="M515.5 208.6V228.3" stroke="#ef5350" fill="none" shape-rendering="crispEdges"/>
<path d="M516.5 213.3V228.5" stroke="#26a69a" fill="none" shape-rendering="crispEdges"/>
<path d="M516.5 212.2V229.6" stroke="#ef5350" fill="none" shape-rendering="crispEdges"/>
<path d="M517.5 211.8V229.8" stroke="#26a69a" fill="none" shape-rendering="crispEdges"/>
<path d="M518.5 211.4V223.1" stroke="#ef5350" fill="none" shape-rendering="crispEdges"/>
<path d="M519.5 210.9V227.0" stroke="#26a69a" fill="none" shape-rendering="crispEdges"/>
<path d="M520.5 212.9V223.3" stroke="#ef5350" fill="none" shape-rendering="crispEdges"/>
<path d="M521.5 219.3V222.1M522.5 208.6V222.0M522.5 204.2V209.8" stroke="#26a69a" fill="none" shape-rendering="crispEdges"/>
<path d="M523.5 205.3V216.2" stroke="#ef5350" fill="none" shape-rendering="crispEdges"/>
<path d="M524.5 205.9V217.7" stroke="#26a69a" fill="none" shape-rendering="crispEdges"/>
<path d="M525.5 200.8V212.1M526.5 206.3V225.2" stroke="#ef5350" fill="none" shape-rendering="crispEdges"/>
<path d="M527.5 206.2V226.2" stroke="#26a69a" fill="none" shape-rendering="crispEdges"/>
<path d="M528.5 209.3V221.4M528.5 218.3V225.6" stroke="#ef5350" fill="none" shape-rendering="crispEdges"/>
<path d="M529.5 210.6V223.5" stroke="#26a69a" fill="none" shape-rendering="crispEdges"/>
<path d="M530.5 209.3V217.8M531.5 216.3V219.1" stroke="#ef5350" fill="none" shape-rendering="crispEdges"/>
<path d="M532.5 207.3V220.1" stroke="#26a69a" fill="none" shape-rendering="crispEdges"/>
<path d="M533.5 207.7V212.3M534.5 207.2V211.2M534.5 210.5V223.8" stroke="#ef5350" fill="none" shape-rendering="crispEdges"/>
<path d="M535.5 216.7V223.9M536.5 206.6V218.6M537.5 200.4V214.4" stroke="#26a69a" fill="none" shape-rendering="crispEdges"/>
<path d="M538.5 206.2V220.1" stroke="#ef5350" fill="none" shape-rendering="crispEdges"/>
<path d="M539.5 213.8V218.3M540.5 198.4V214.2" stroke="#26a69a" fill="none" shape-rendering="crispEdges"/>
<path d="M540.5 201.4V214.9" stroke="#ef5350" fill="none" shape-rendering="crispEdges"/>
<path d="M541.5 200.4V216.6" stroke="#26a69a" fill="none" shape-rendering="crispEdges"/>
<path d="M542.5 201.9V211.3" stroke="#ef5350" fill="none" shape-rendering="crispEdges"/>
<path d="M543.5 204.6V208.2M544.5 202.3V210.3M545.5 205.4V206.9" stroke="#26a69a" fill="none" shape-rendering="crispEdges"/>
<path d="M546.5 204.2V210.7" stroke="#ef5350" fill="none" shape-rendering="crispEdges"/>
<path d="M546.5 202.9V211.6" stroke="#26a69a" fill="none" shape-rendering="crispEdges"/>
<path d="M547.5 202.1V209.5" stroke="#ef5350" fill="none" shape-rendering="crispEdges"/>
<path d="M548.5 191.6V210.7" stroke="#26a69a" fill="none" shape-rendering="crispEdges"/>
<path d="M549.5 194.0V210.3" stroke="#ef5350" fill="none" shape-rendering="crispEdges"/>
<path d="M550.5 194.2V210.1" stroke="#26a69a" fill="none" shape-rendering="crispEdges"/>
<path d="M551.5 198.0V203.4M552.5 196.5V201.0" stroke="#ef5350" fill="none" shape-rendering="crispEdges"/>
<path d="M552.5 193.8V201.2M553.5 192.6V199.3M554.5 184.9V196.6" stroke="#26a69a" fill="none" shape-rendering="crispEdges"/>
<path d="M555.5 185.9V197.2M556.5 189.5V198.2" stroke="#ef5350" fill="none" shape-rendering="crispEdges"/>
<path d="M557.5 190.7V197.9M558.5 175.7V194.9" stroke="#26a69a" fill="none" shape-rendering="crispEdges"/>
<path d="M558.5 175.2V185.5" stroke="#ef5350" fill="none" shape-rendering="crispEdges"/>
<path d="M559.5 181.9V188.4M560.5 173.2V182.5M561.5 169.7V174.2M562.5 168.1V173.5M563.5 168.1V171.6" stroke="#26a69a" fill="none" shape-rendering="crispEdges"/>
<path d="M564.5 168.0V174.8M565.5 172.2V178.2" stroke="#ef5350" fill="none" shape-rendering="crispEdges"/>
<path d="M565.5 165.4V180.0" stroke="#26a69a" fill="none" shape-rendering="crispEdges"/>
<path d="M566.5 166.8V170.7" stroke="#ef5350" fill="none" shape-rendering="crispEdges"/>
<path d="M567.5 164.5V172.3" stroke="#26a69a" fill="none" shape-rendering="crispEdges"/>
<path d="M568.5 164.9V169.1" stroke="#ef5350" fill="none" shape-rendering="crispEdges"/>
<path d="M569.5 164.5V169.3" stroke="#26a69a" fill="none" shape-rendering="crispEdges"/>
<path d="M570.5 166.1V172.1M571.5 169.4V173.8M571.5 171.2V174.3" stroke="#ef5350" fill="none" shape-rendering="crispEdges"/>
<path d="M572.5 170.1V176.7" stroke="#26a69a" fill="none" shape-rendering="crispEdges"/>
<path d="M573.5 167.9V182.3M574.5 179.0V184.4M575.5 177.9V185.1" stroke="#ef5350" fill="none" shape-rendering="crispEdges"/>
<path d="M576.5 174.0V185.4" stroke="#26a69a" fill="none" shape-rendering="crispEdges"/>
<path d="M577.5 176.2V180.4M577.5 178.9V180.4M578.5 177.0V185.8" stroke="#ef5350" fill="none" shape-rendering="crispEdges"/>
<path d="M579.5 179.6V186.1" stroke="#26a69a" fill="none" shape-rendering="crispEdges"/>
<path d="M580.5 181.6V185.7" stroke="#ef5350" fill="none" shape-rendering="crispEdges"/>
<path d="M581.5 178.1V184.7" stroke="#26a69a" fill="none" shape-rendering="crispEdges"/>
<path d="M582.5 177.8V183.3M583.5 180.4V183.9M583.5 181.0V200.1" stroke="#ef5350" fill="none" shape-rendering="crispEdges"/>
<path d="M584.5 194.6V202.0" stroke="#26a69a" fill="none" shape-rendering="crispEdges"/>
<path d="M585.5 192.2V206.9" stroke="#ef5350" fill="none" shape-rendering="crispEdges"/>
<path d="M586.5 196.3V205.9M587.5 196.1V199.9" stroke="#26a69a" fill="none" shape-rendering="crispEdges"/>
<path d="M588.5 196.1V202.6" stroke="#ef5350" fill="none" shape-rendering="crispEdges"/>
<path d="M589.5 197.7V204.2" stroke="#26a69a" fill="none" shape-rendering="crispEdges"/>
<path d="M589.5 197.5V205.8" stroke="#ef5350" fill="none" shape-rendering="crispEdges"/>
<path d="M590.5 195.8V205.3" stroke="#26a69a" fill="none" shape-rendering="crispEdges"/>
<path d="M591.5 196.0V203.0" stroke="#ef5350" fill="none" shape-rendering="crispEdges"/>
<path d="M592.5 197.2V202.2" stroke="#26a69a" fill="none" shape-rendering="crispEdges"/>
<path d="M593.5 196.3V205.9" stroke="#ef5350" fill="none" shape-rendering="crispEdges"/>
<path d="M594.5 193.1V208.0" stroke="#26a69a" fill="none" shape-rendering="crispEdges"/>
<path d="M595.5 192.5V202.1M595.5 197.6V205.1M596.5 203.2V213.2M597.5 211.4V214.0" stroke="#ef5350" fill="none" shape-rendering="crispEdges"/>
<path d="M598.5 205.4V215.4M599.5 202.6V209.8" stroke="#26a69a" fill="none" shape-rendering="crispEdges"/>
<path d="M600.5 202.8V211.3" stroke="#ef5350" fill="none" shape-rendering="crispEdges"/>
<path d="M601.5 205.0V212.0" stroke="#26a69a" fill="none" shape-rendering="crispEdges"/>
<path d="M601.5 204.8V213.8M602.5 210.5V215.5" stroke="#ef5350" fill="none" shape-rendering="crispEdges"/>
<path d="M603.5 210.7V215.9" stroke="#26a69a" fill="none" shape-rendering="crispEdges"/>
<path d="M604.5 212.9V225.4" stroke="#ef5350" fill="none" shape-rendering="crispEdges"/>
<path d="M605.5 207.4V225.2" stroke="#26a69a" fill="none" shape-rendering="crispEdges"/>
<path d="M606.5 208.8V220.5M607.5 216.3V221.5M607.5 217.8V221.2" stroke="#ef5350" fill="none" shape-rendering="crispEdges"/>
<path d="M608.5 211.3V220.8M609.5 208.8V216.4M610.5 204.6V215.3" stroke="#26a69a" fill="none" shape-rendering="crispEdges"/>
<path d="M611.5 206.4V209.2" stroke="#ef5350" fill="none" shape-rendering="crispEdges"/>
<path d="M612.5 203.3V210.6" stroke="#26a69a" fill="none" shape-rendering="crispEdges"/>
<path d="M613.5 203.5V210.1" stroke="#ef5350" fill="none" shape-rendering="crispEdges"/>
<path d="M613.5 201.2V210.2" stroke="#26a69a" fill="none" shape-rendering="crispEdges"/>
<path d="M614.5 203.6V216.6" stroke="#ef5350" fill="none" shape-rendering="crispEdges"/>
<path d="M615.5 214.1V215.6M616.5 206.7V217.2" stroke="#26a69a" fill="none" shape-rendering="crispEdges"/>
<path d="M617.5 206.4V216.4" stroke="#ef5350" fill="none" shape-rendering="crispEdges"/>
<path d="M618.5 204.8V214.9M619.5 202.3V209.4M620.5 199.0V205.6" stroke="#26a69a" fill="none" shape-rendering="crispEdges"/>
<path d="M620.5 201.5V203.9M621.5 201.1V205.8M622.5 199.8V215.8" stroke="#ef5350" fill="none" shape-rendering="crispEdges"/>
<path d="M623.5 206.7V219.0" stroke="#26a69a" fill="none" shape-rendering="crispEdges"/>
<path d="M624.5 207.3V214.1M625.5 208.8V215.0M626.5 211.1V222.4M626.5 220.4V225.0M627.5 221.2V225.0" stroke="#ef5350" fill="none" shape-rendering="crispEdges"/>
<path d="M628.5 216.2V225.0" stroke="#26a69a" fill="none" shape-rendering="crispEdges"/>
<path d="M629.5 216.4V220.1M630.5 215.9V231.7M631.5 225.1V241.0" stroke="#ef5350" fill="none" shape-rendering="crispEdges"/>
<path d="M632.5 221.0V242.9" stroke="#26a69a" fill="none" shape-rendering="crispEdges"/>
<path d="M632.5 226.7V238.3M633.5 232.7V246.1" stroke="#ef5350" fill="none" shape-rendering="crispEdges"/>
<path d="M634.5 232.3V244.6" stroke="#26a69a" fill="none" shape-rendering="crispEdges"/>
<path d="M635.5 234.3V241.3M636.5 237.3V250.8" stroke="#ef5350" fill="none" shape-rendering="crispEdges"/>
<path d="M637.5 239.2V251.1" stroke="#26a69a" fill="none" shape-rendering="crispEdges"/>
<path d="M638.5 239.4V240.9M638.5 237.0V245.0M639.5 242.3V244.5" stroke="#ef5350" fill="none" shape-rendering="crispEdges"/>
<path d="M640.5 240.6V247.0M641.5 233.4V243.0M642.5 227.8V236.1" stroke="#26a69a" fill="none" shape-rendering="crispEdges"/>
<path d="M643.5 228.4V236.2" stroke="#ef5350" fill="none" shape-rendering="crispEdges"/>
<path d="M644.5 228.0V237.5" stroke="#26a69a" fill="none" shape-rendering="crispEdges"/>
<path d="M644.5 229.5V249.9" stroke="#ef5350" fill="none" shape-rendering="crispEdges"/>
<path d="M645.5 236.8V249.4" stroke="#26a69a" fill="none" shape-rendering="crispEdges"/>
<path d="M646.5 235.8V249.6" stroke="#ef5350" fill="none" shape-rendering="crispEdges"/>
<path d="M647.5 244.7V248.8" stroke="#26a69a" fill="none" shape-rendering="crispEdges"/>
<path d="M648.5 244.2V248.6" stroke="#ef5350" fill="none" shape-rendering="crispEdges"/>
<path d="M649.5 236.7V249.0" stroke="#26a69a" fill="none" shape-rendering="crispEdges"/>
<path d="M650.5 237.1V241.4M650.5 235.6V242.0" stroke="#ef5350" fill="none" shape-rendering="crispEdges"/>
<path d="M651.5 236.1V242.0" stroke="#26a69a" fill="none" shape-rendering="crispEdges"/>
<path d="M652.5 236.2V257.4" stroke="#ef5350" fill="none" shape-rendering="crispEdges"/>
<path d="M653.5 234.6V257.4" stroke="#26a69a" fill="none" shape-rendering="crispEdges"/>
<path d="M654.5 237.3V244.9M655.5 242.3V254.7" stroke="#ef5350" fill="none" shape-rendering="crispEdges"/>
<path d="M656.5 238.3V253.9M656.5 234.5V240.7" stroke="#26a69a" fill="none" shape-rendering="crispEdges"/>
<path d="M657.5 234.5V237.0M658.5 235.1V237.4" stroke="#ef5350" fill="none" shape-rendering="crispEdges"/>
<path d="M659.5 233.8V239.6M660.5 228.7V239.3" stroke="#26a69a" fill="none" shape-rendering="crispEdges"/>
<path d="M661.5 226.2V233.7M662.5 231.0V240.8" stroke="#ef5350" fill="none" shape-rendering="crispEdges"/>
<path d="M662.5 233.2V242.6M663.5 227.8V236.7" stroke="#26a69a" fill="none" shape-rendering="crispEdges"/>
<path d="M664.5 230.9V240.6M665.5 232.0V238.1M666.5 235.6V248.0M667.5 245.0V255.1" stroke="#ef5350" fill="none" shape-rendering="crispEdges"/>
<path d="M668.5 249.1V253.7M668.5 245.5V252.8" stroke="#26a69a" fill="none" shape-rendering="crispEdges"/>
<path d="M669.5 244.8V250.0M670.5 248.6V254.1" stroke="#ef5350" fill="none" shape-rendering="crispEdges"/>
<path d="M671.5 249.3V253.5M672.5 248.3V251.9M673.5 244.3V252.6" stroke="#26a69a" fill="none" shape-rendering="crispEdges"/>
<path d="M674.5 241.4V255.6" stroke="#ef5350" fill="none" shape-rendering="crispEdges"/>
<path d="M675.5 237.7V251.2" stroke="#26a69a" fill="none" shape-rendering="crispEdges"/>
<path d="M675.5 236.4V247.7" stroke="#ef5350" fill="none" shape-rendering="crispEdges"/>
<path d="M676.5 239.6V249.3M677.5 237.3V244.3" stroke="#26a69a" fill="none" shape-rendering="crispEdges"/>
<path d="M678.5 240.8V250.1M679.5 247.2V257.3" stroke="#ef5350" fill="none" shape-rendering="crispEdges"/>
<path d="M680.5 245.6V255.5" stroke="#26a69a" fill="none" shape-rendering="crispEdges"/>
<path d="M681.5 244.8V248.1" stroke="#ef5350" fill="none" shape-rendering="crispEdges"/>
<path d="M681.5 244.4V248.9M682.5 238.9V247.7" stroke="#26a69a" fill="none" shape-rendering="crispEdges"/>
<path d="M683.5 241.2V251.6" stroke="#ef5350" fill="none" shape-rendering="crispEdges"/>
<path d="M684.5 246.7V249.5M685.5 244.6V250.0M686.5 231.2V249.5M687.5 231.8V233.6" stroke="#26a69a" fill="none" shape-rendering="crispEdges"/>
<path d="M687.5 232.0V243.4" stroke="#ef5350" fill="none" shape-rendering="crispEdges"/>
<path d="M688.5 238.2V241.8M689.5 233.5V241.0M690.5 234.8V239.0" stroke="#26a69a" fill="none" shape-rendering="crispEdges"/>
<path d="M691.5 231.6V240.2M692.5 234.7V245.6" stroke="#ef5350" fill="none" shape-rendering="crispEdges"/>
<path d="M693.5 241.2V245.7" stroke="#26a69a" fill="none" shape-rendering="crispEdges"/>
<path d="M693.5 239.9V245.1" stroke="#ef5350" fill="none" shape-rendering="crispEdges"/>
<path d="M694.5 238.3V242.5" stroke="#26a69a" fill="none" shape-rendering="crispEdges"/>
<path d="M695.5 239.3V247.0" stroke="#ef5350" fill="none" shape-rendering="crispEdges"/>
<path d="M696.5 243.1V247.9M697.5 243.7V245.5M698.5 239.4V245.1M699.5 237.3V243.4" stroke="#26a69a" fill="none" shape-rendering="crispEdges"/>
<path d="M699.5 237.0V240.7" stroke="#ef5350" fill="none" shape-rendering="crispEdges"/>
<path d="M700.5 233.9V243.0M701.5 231.6V238.2M702.5 228.4V233.5" stroke="#26a69a" fill="none" shape-rendering="crispEdges"/>
<path d="M703.5 228.4V238.8" stroke="#ef5350" fill="none" shape-rendering="crispEdges"/>
<path d="M704.5 228.7V238.3" stroke="#26a69a" fill="none" shape-rendering="crispEdges"/>
<path d="M705.5 230.5V236.5" stroke="#ef5350" fill="none" shape-rendering="crispEdges"/>
<path d="M705.5 231.6V235.6" stroke="#26a69a" fill="none" shape-rendering="crispEdges"/>
<path d="M706.5 232.1V234.2M707.5 231.4V235.2M708.5 233.0V235.4M709.5 233.8V237.0" stroke="#ef5350" fill="none" shape-rendering="crispEdges"/>
<path d="M710.5 232.1V238.7M711.5 230.3V236.0" stroke="#26a69a" fill="none" shape-rendering="crispEdges"/>
<path d="M711.5 231.9V236.8" stroke="#ef5350" fill="none" shape-rendering="crispEdges"/>
<path d="M712.5 232.1V237.0M713.5 218.7V235.6" stroke="#26a69a" fill="none" shape-rendering="crispEdges"/>
<path d="M714.5 214.0V230.2" stroke="#ef5350" fill="none" shape-rendering="crispEdges"/>
<path d="M715.5 214.5V226.8M716.5 207.5V222.1" stroke="#26a69a" fill="none" shape-rendering="crispEdges"/>
<path d="M717.5 209.1V217.4M717.5 211.8V215.2" stroke="#ef5350" fill="none" shape-rendering="crispEdges"/>
<path d="M718.5 212.1V216.4M719.5 209.7V215.7M720.5 209.1V211.2" stroke="#26a69a" fill="none" shape-rendering="crispEdges"/>
<path d="M721.5 208.3V210.7" stroke="#ef5350" fill="none" shape-rendering="crispEdges"/>
<path d="M722.5 206.2V211.5" stroke="#26a69a" fill="none" shape-rendering="crispEdges"/>
<path d="M723.5 205.9V214.7M723.5 211.9V214.5" stroke="#ef5350" fill="none" shape-rendering="crispEdges"/>
<path d="M724.5 207.3V214.6M725.5 206.0V208.2" stroke="#26a69a" fill="none" shape-rendering="crispEdges"/>
<path d="M726.5 206.1V209.8" stroke="#ef5350" fill="none" shape-rendering="crispEdges"/>
<path d="M727.5 206.7V210.0" stroke="#26a69a" fill="none" shape-rendering="crispEdges"/>
<path d="M728.5 207.4V213.1M729.5 210.3V214.0" stroke="#ef5350" fill="none" shape-rendering="crispEdges"/>
<path d="M730.5 208.0V214.2M730.5 208.3V210.2" stroke="#26a69a" fill="none" shape-rendering="crispEdges"/>
<path d="M731.5 206.8V213.1" stroke="#ef5350" fill="none" shape-rendering="crispEdges"/>
<path d="M732.5 204.7V211.8" stroke="#26a69a" fill="none" shape-rendering="crispEdges"/>
<path d="M733.5 204.7V209.7" stroke="#ef5350" fill="none" shape-rendering="crispEdges"/>
<path d="M734.5 204.1V210.3" stroke="#26a69a" fill="none" shape-rendering="crispEdges"/>
<path d="M735.5 203.6V213.4" stroke="#ef5350" fill="none" shape-rendering="crispEdges"/>
<path d="M736.5 210.3V213.2M736.5 210.7V213.0M737.5 208.6V212.1" stroke="#26a69a" fill="none" shape-rendering="crispEdges"/>
<path d="M738.5 207.8V216.0" stroke="#ef5350" fill="none" shape-rendering="crispEdges"/>
<path d="M739.5 207.2V217.7M740.5 203.9V211.2" stroke="#26a69a" fill="none" shape-rendering="crispEdges"/>
<path d="M741.5 204.4V213.3M742.5 208.8V212.9M742.5 210.0V215.3" stroke="#ef5350" fill="none" shape-rendering="crispEdges"/>
<path d="M743.5 209.0V216.5" stroke="#26a69a" fill="none" shape-rendering="crispEdges"/>
<path d="M744.5 209.2V215.1" stroke="#ef5350" fill="none" shape-rendering="crispEdges"/>
<path d="M745.5 210.4V214.3" stroke="#26a69a" fill="none" shape-rendering="crispEdges"/>
<path d="M746.5 209.6V212.4M747.5 210.0V211.6M748.5 210.0V213.2" stroke="#ef5350" fill="none" shape-rendering="crispEdges"/>
<path d="M748.5 211.0V214.0" stroke="#26a69a" fill="none" shape-rendering="crispEdges"/>
<path d="M749.5 209.9V215.7" stroke="#ef5350" fill="none" shape-rendering="crispEdges"/>
<path d="M750.5 211.9V215.3M751.5 209.2V214.0M752.5 200.5V212.5" stroke="#26a69a" fill="none" shape-rendering="crispEdges"/>
<path d="M753.5 197.7V203.0M754.5 202.1V205.5" stroke="#ef5350" fill="none" shape-rendering="crispEdges"/>
<path d="M754.5 195.8V207.2M755.5 189.1V199.3" stroke="#26a69a" fill="none" shape-rendering="crispEdges"/>
<path d="M756.5 186.8V194.3M757.5 189.9V197.6" stroke="#ef5350" fill="none" shape-rendering="crispEdges"/>
<path d="M758.5 192.6V195.3M759.5 185.9V193.5" stroke="#26a69a" fill="none" shape-rendering="crispEdges"/>
<path d="M760.5 187.3V192.1" stroke="#ef5350" fill="none" shape-rendering="crispEdges"/>
<path d="M760.5 189.4V192.6M761.5 186.8V191.2" stroke="#26a69a" fill="none" shape-rendering="crispEdges"/>
<path d="M762.5 186.7V190.7M763.5 189.2V194.1" stroke="#ef5350" fill="none" shape-rendering="crispEdges"/>
<path d="M764.5 188.1V195.5" stroke="#26a69a" fill="none" shape-rendering="crispEdges"/>
<path d="M765.5 188.8V192.6" stroke="#ef5350" fill="none" shape-rendering="crispEdges"/>
<path d="M766.5 187.7V193.0" stroke="#26a69a" fill="none" shape-rendering="crispEdges"/>
<path d="M766.5 188.9V194.5" stroke="#ef5350" fill="none" shape-rendering="crispEdges"/>
<path d="M767.5 191.9V194.7" stroke="#26a69a" fill="none" shape-rendering="crispEdges"/>
<path d="M768.5 190.8V194.0M769.5 192.4V195.1" stroke="#ef5350" fill="none" shape-rendering="crispEdges"/>
<path d="M770.5 186.1V194.8" stroke="#26a69a" fill="none" shape-rendering="crispEdges"/>
<path d="M771.5 187.1V191.9" stroke="#ef5350" fill="none" shape-rendering="crispEdges"/>
<path d="M772.5 189.8V192.3M772.5 188.1V192.7M773.5 186.3V189.5M774.5 185.8V188.2" stroke="#26a69a" fill="none" shape-rendering="crispEdges"/>
<path d="M775.5 186.0V191.5" stroke="#ef5350" fill="none" shape-rendering="crispEdges"/>
<path d="M776.5 187.8V192.0" stroke="#26a69a" fill="none" shape-rendering="crispEdges"/>
<path d="M777.5 187.7V190.4" stroke="#ef5350" fill="none" shape-rendering="crispEdges"/>
<path d="M778.5 186.2V190.4M778.5 186.1V188.3M779.5 183.1V188.2M780.5 182.1V184.9M781.5 180.8V184.6" stroke="#26a69a" fill="none" shape-rendering="crispEdges"/>
<path d="M782.5 179.2V194.9" stroke="#ef5350" fill="none" shape-rendering="crispEdges"/>
<path d="M783.5 187.2V199.2" stroke="#26a69a" fill="none" shape-rendering="crispEdges"/>
<path d="M784.5 187.6V201.6" stroke="#ef5350" fill="none" shape-rendering="crispEdges"/>
<path d="M785.5 192.2V202.3" stroke="#26a69a" fill="none" shape-rendering="crispEdges"/>
<path d="M785.5 189.1V211.3" stroke="#ef5350" fill="none" shape-rendering="crispEdges"/>
<path d="M786.5 196.5V211.6" stroke="#26a69a" fill="none" shape-rendering="crispEdges"/>
<path d="M787.5 197.4V209.9M788.5 206.3V211.7" stroke="#ef5350" fill="none" shape-rendering="crispEdges"/>
<path d="M789.5 208.8V215.7" stroke="#26a69a" fill="none" shape-rendering="crispEdges"/>
<path d="M790.5 208.8V215.8" stroke="#ef5350" fill="none" shape-rendering="crispEdges"/>
<path d="M791.5 212.0V215.4M791.5 210.9V215.0" stroke="#26a69a" fill="none" shape-rendering="crispEdges"/>
<path d="M792.5 212.2V220.1" stroke="#ef5350" fill="none" shape-rendering="crispEdges"/>
<path d="M793.5 216.1V220.1" stroke="#26a69a" fill="none" shape-rendering="crispEdges"/>
<path d="M794.5 214.1V219.8M795.5 217.3V226.3" stroke="#ef5350" fill="none" shape-rendering="crispEdges"/>
<path d="M796.5 220.6V225.0M797.5 218.6V221.6" stroke="#26a69a" fill="none" shape-rendering="crispEdges"/>
<path d="M797.5 219.8V224.5" stroke="#ef5350" fill="none" shape-rendering="crispEdges"/>
<path d="M798.5 215.3V224.6" stroke="#26a69a" fill="none" shape-rendering="crispEdges"/>
<path d="M799.5 215.8V218.0" stroke="#ef5350" fill="none" shape-rendering="crispEdges"/>
<path d="M800.5 215.9V219.7M801.5 215.2V217.1" stroke="#26a69a" fill="none" shape-rendering="crispEdges"/>
<path d="M802.5 214.2V220.2" stroke="#ef5350" fill="none" shape-rendering="crispEdges"/>
<path d="M803.5 213.0V221.1" stroke="#26a69a" fill="none" shape-rendering="crispEdges"/>
<path d="M803.5 214.5V232.1M804.5 224.5V239.0" stroke="#ef5350" fill="none" shape-rendering="crispEdges"/>
<path d="M805.5 215.1V243.3" stroke="#26a69a" fill="none" shape-rendering="crispEdges"/>
<path d="M806.5 219.1V235.9M807.5 232.4V237.2M808.5 233.4V236.6" stroke="#ef5350" fill="none" shape-rendering="crispEdges"/>
<path d="M809.5 231.7V235.9" stroke="#26a69a" fill="none" shape-rendering="crispEdges"/>
<path d="M809.5 231.9V237.3" stroke="#ef5350" fill="none" shape-rendering="crispEdges"/>
<path d="M810.5 235.2V237.1M811.5 231.2V236.7" stroke="#26a69a" fill="none" shape-rendering="crispEdges"/>
<path d="M812.5 232.0V240.2M813.5 238.4V239.9" stroke="#ef5350" fill="none" shape-rendering="crispEdges"/>
<path d="M814.5 234.5V242.0M815.5 229.0V236.8" stroke="#26a69a" fill="none" shape-rendering="crispEdges"/>
<path d="M815.5 228.3V238.7M816.5 231.7V239.0M817.5 235.2V244.2" stroke="#ef5350" fill="none" shape-rendering="crispEdges"/>
<path d="M818.5 229.3V239.5M819.5 224.5V232.8M820.5 221.3V228.9M821.5 221.4V223.6" stroke="#26a69a" fill="none" shape-rendering="crispEdges"/>
<path d="M821.5 219.5V227.6M822.5 226.0V232.7" stroke="#ef5350" fill="none" shape-rendering="crispEdges"/>
<path d="M823.5 222.5V232.0" stroke="#26a69a" fill="none" shape-rendering="crispEdges"/>
<path d="M824.5 220.9V224.5M825.5 220.9V225.6" stroke="#ef5350" fill="none" shape-rendering="crispEdges"/>
<path d="M826.5 223.5V226.9" stroke="#26a69a" fill="none" shape-rendering="crispEdges"/>
<path d="M827.5 223.6V233.4" stroke="#ef5350" fill="none" shape-rendering="crispEdges"/>
<path d="M827.5 230.2V234.5M828.5 225.7V231.9" stroke="#26a69a" fill="none" shape-rendering="crispEdges"/>
<path d="M829.5 226.2V231.8M830.5 230.5V234.2" stroke="#ef5350" fill="none" shape-rendering="crispEdges"/>
<path d="M831.5 213.6V233.7" stroke="#26a69a" fill="none" shape-rendering="crispEdges"/>
<path d="M832.5 215.9V232.8" stroke="#ef5350" fill="none" shape-rendering="crispEdges"/>
<path d="M833.5 211.2V233.1" stroke="#26a69a" fill="none" shape-rendering="crispEdges"/>
<path d="M833.5 215.8V222.5" stroke="#ef5350" fill="none" shape-rendering="crispEdges"/>
<path d="M834.5 208.6V222.4M835.5 205.1V214.8M836.5 205.2V210.1M837.5 208.4V210.7" stroke="#26a69a" fill="none" shape-rendering="crispEdges"/>
<path d="M838.5 208.2V210.2" stroke="#ef5350" fill="none" shape-rendering="crispEdges"/>
<path d="M839.5 207.6V209.6M840.5 202.4V208.7" stroke="#26a69a" fill="none" shape-rendering="crispEdges"/>
<path d="M840.5 201.9V213.9M841.5 204.7V219.1M842.5 214.5V232.1" stroke="#ef5350" fill="none" shape-rendering="crispEdges"/>
<path d="M843.5 224.9V232.7" stroke="#26a69a" fill="none" shape-rendering="crispEdges"/>
<path d="M844.5 224.1V230.8" stroke="#ef5350" fill="none" shape-rendering="crispEdges"/>
<path d="M845.5 206.9V230.6" stroke="#26a69a" fill="none" shape-rendering="crispEdges"/>
<path d="M846.5 211.1V232.8" stroke="#ef5350" fill="none" shape-rendering="crispEdges"/>
<path d="M846.5 219.3V232.4M847.5 215.3V224.0" stroke="#26a69a" fill="none" shape-rendering="crispEdges"/>
<path d="M848.5 212.5V231.1" stroke="#ef5350" fill="none" shape-rendering="crispEdges"/>
<path d="M849.5 214.0V230.1" stroke="#26a69a" fill="none" shape-rendering="crispEdges"/>
<path d="M850.5 214.9V226.2" stroke="#ef5350" fill="none" shape-rendering="crispEdges"/>
<path d="M851.5 215.7V224.7M852.5 214.9V218.8" stroke="#26a69a" fill="none" shape-rendering="crispEdges"/>
<path d="M852.5 216.5V233.9" stroke="#ef5350" fill="none" shape-rendering="crispEdges"/>
<path d="M853.5 220.9V232.6" stroke="#26a69a" fill="none" shape-rendering="crispEdges"/>
<path d="M854.5 222.1V234.9" stroke="#ef5350" fill="none" shape-rendering="crispEdges"/>
<path d="M855.5 229.2V233.2" stroke="#26a69a" fill="none" shape-rendering="crispEdges"/>
<path d="M856.5 226.4V231.1" stroke="#ef5350" fill="none" shape-rendering="crispEdges"/>
<path d="M857.5 223.3V232.9" stroke="#26a69a" fill="none" shape-rendering="crispEdges"/>
<path d="M858.5 225.8V232.5" stroke="#ef5350" fill="none" shape-rendering="crispEdges"/>
<path d="M858.5 225.6V232.1" stroke="#26a69a" fill="none" shape-rendering="crispEdges"/>
<path d="M859.5 224.7V228.9" stroke="#ef5350" fill="none" shape-rendering="crispEdges"/>
<path d="M860.5 226.2V229.3" stroke="#26a69a" fill="none" shape-rendering="crispEdges"/>
<path d="M861.5 224.6V231.6M862.5 226.7V233.4M863.5 229.3V232.4" stroke="#ef5350" fill="none" shape-rendering="crispEdges"/>
<path d="M864.5 224.9V232.6M864.5 224.7V228.5" stroke="#26a69a" fill="none" shape-rendering="crispEdges"/>
<path d="M865.5 226.2V233.8" stroke="#ef5350" fill="none" shape-rendering="crispEdges"/>
<path d="M866.5 227.8V232.5M867.5 220.1V228.8M868.5 215.8V222.9" stroke="#26a69a" fill="none" shape-rendering="crispEdges"/>
<path d="M869.5 217.8V227.1" stroke="#ef5350" fill="none" shape-rendering="crispEdges"/>
<path d="M870.5 218.3V226.6M870.5 216.6V219.9" stroke="#26a69a" fill="none" shape-rendering="crispEdges"/>
<path d="M871.5 216.5V224.5" stroke="#ef5350" fill="none" shape-rendering="crispEdges"/>
<path d="M872.5 216.3V223.7M873.5 215.8V221.5M874.5 216.4V220.7M875.5 211.8V219.2M876.5 211.3V215.4M876.5 210.8V216.3M877.5 206.9V213.2M878.5 208.1V209.6" stroke="#26a69a" fill="none" shape-rendering="crispEdges"/>
<path d="M879.5 207.2V214.6" stroke="#ef5350" fill="none" shape-rendering="crispEdges"/>
<path d="M880.5 207.0V213.8M881.5 203.4V210.5" stroke="#26a69a" fill="none" shape-rendering="crispEdges"/>
<path d="M882.5 203.4V212.8M882.5 210.2V212.7" stroke="#ef5350" fill="none" shape-rendering="crispEdges"/>
<path d="M883.5 209.7V212.0M884.5 205.8V211.8" stroke="#26a69a" fill="none" shape-rendering="crispEdges"/>
<path d="M885.5 204.5V209.3" stroke="#ef5350" fill="none" shape-rendering="crispEdges"/>
<path d="M886.5 207.7V209.2" stroke="#26a69a" fill="none" shape-rendering="crispEdges"/>
<path d="M887.5 205.8V214.7" stroke="#ef5350" fill="none" shape-rendering="crispEdges"/>
<path d="M888.5 203.9V213.6M888.5 200.7V207.0" stroke="#26a69a" fill="none" shape-rendering="crispEdges"/>
<path d="M889.5 201.6V206.2" stroke="#ef5350" fill="none" shape-rendering="crispEdges"/>
<path d="M890.5 203.3V205.3M891.5 201.7V204.4" stroke="#26a69a" fill="none" shape-rendering="crispEdges"/>
<path d="M892.5 201.9V205.5M893.5 204.1V209.9" stroke="#ef5350" fill="none" shape-rendering="crispEdges"/>
<path d="M894.5 205.4V209.9" stroke="#26a69a" fill="none" shape-rendering="crispEdges"/>
<path d="M895.5 206.0V210.5M895.5 207.9V212.5" stroke="#ef5350" fill="none" shape-rendering="crispEdges"/>
<path d="M896.5 210.7V213.9M897.5 209.4V212.7" stroke="#26a69a" fill="none" shape-rendering="crispEdges"/>
<path d="M898.5 209.6V213.8" stroke="#ef5350" fill="none" shape-rendering="crispEdges"/>
<path d="M899.5 209.8V213.4" stroke="#26a69a" fill="none" shape-rendering="crispEdges"/>
<path d="M900.5 210.0V213.9M901.5 212.5V214.0M901.5 212.2V217.7" stroke="#ef5350" fill="none" shape-rendering="crispEdges"/>
<path d="M902.5 211.7V219.2M903.5 208.0V217.2" stroke="#26a69a" fill="none" shape-rendering="crispEdges"/>
<path d="M904.5 209.4V218.3M905.5 214.1V220.3M906.5 217.3V224.1M907.5 218.7V227.4" stroke="#ef5350" fill="none" shape-rendering="crispEdges"/>
<path d="M907.5 217.7V228.9" stroke="#26a69a" fill="none" shape-rendering="crispEdges"/>
<path d="M908.5 220.0V242.3" stroke="#ef5350" fill="none" shape-rendering="crispEdges"/>
<path d="M909.5 229.4V246.5" stroke="#26a69a" fill="none" shape-rendering="crispEdges"/>
<path d="M910.5 229.4V234.2M911.5 230.2V245.2M912.5 242.1V245.8" stroke="#ef5350" fill="none" shape-rendering="crispEdges"/>
<path d="M913.5 244.7V247.0" stroke="#26a69a" fill="none" shape-rendering="crispEdges"/>
<path d="M913.5 243.7V249.6" stroke="#ef5350" fill="none" shape-rendering="crispEdges"/>
<path d="M914.5 240.8V249.8M915.5 239.5V242.2" stroke="#26a69a" fill="none" shape-rendering="crispEdges"/>
<path d="M916.5 239.8V243.3M917.5 240.9V251.8" stroke="#ef5350" fill="none" shape-rendering="crispEdges"/>
<path d="M918.5 245.0V251.3" stroke="#26a69a" fill="none" shape-rendering="crispEdges"/>
<path d="M919.5 241.9V255.0" stroke="#ef5350" fill="none" shape-rendering="crispEdges"/>
<path d="M919.5 242.0V252.0" stroke="#26a69a" fill="none" shape-rendering="crispEdges"/>
<path d="M920.5 241.3V248.9M921.5 243.1V255.0M922.5 251.2V270.9" stroke="#ef5350" fill="none" shape-rendering="crispEdges"/>
<path d="M923.5 258.9V266.3" stroke="#26a69a" fill="none" shape-rendering="crispEdges"/>
<path d="M924.5 257.4V264.6M925.5 261.3V264.9" stroke="#ef5350" fill="none" shape-rendering="crispEdges"/>
<path d="M925.5 259.1V264.7" stroke="#26a69a" fill="none" shape-rendering="crispEdges"/>
<path d="M926.5 259.3V269.8" stroke="#ef5350" fill="none" shape-rendering="crispEdges"/>
<path d="M927.5 259.9V266.5M928.5 259.0V264.3" stroke="#26a69a" fill="none" shape-rendering="crispEdges"/>
<path d="M929.5 261.8V273.1" stroke="#ef5350" fill="none" shape-rendering="crispEdges"/>
<path d="M930.5 250.8V272.9" stroke="#26a69a" fill="none" shape-rendering="crispEdges"/>
<path d="M931.5 253.9V268.6" stroke="#ef5350" fill="none" shape-rendering="crispEdges"/>
<path d="M931.5 259.5V266.0" stroke="#26a69a" fill="none" shape-rendering="crispEdges"/>
<path d="M932.5 260.1V265.8" stroke="#ef5350" fill="none" shape-rendering="crispEdges"/>
<path d="M933.5 255.5V263.1" stroke="#26a69a" fill="none" shape-rendering="crispEdges"/>
<path d="M934.5 252.6V263.7" stroke="#ef5350" fill="none" shape-rendering="crispEdges"/>
<path d="M935.5 258.8V264.6M936.5 258.2V259.8M937.5 257.5V260.8M937.5 253.1V258.9" stroke="#26a69a" fill="none" shape-rendering="crispEdges"/>
<path d="M938.5 252.4V254.0M939.5 253.0V260.1" stroke="#ef5350" fill="none" shape-rendering="crispEdges"/>
<path d="M940.5 248.3V260.1" stroke="#26a69a" fill="none" shape-rendering="crispEdges"/>
<path d="M941.5 250.4V253.0M942.5 251.1V256.4" stroke="#ef5350" fill="none" shape-rendering="crispEdges"/>
<path d="M943.5 247.1V256.7" stroke="#26a69a" fill="none" shape-rendering="crispEdges"/>
<path d="M943.5 246.4V252.7M944.5 251.9V261.7M945.5 255.5V263.9" stroke="#ef5350" fill="none" shape-rendering="crispEdges"/>
<path d="M946.5 254.7V263.6" stroke="#26a69a" fill="none" shape-rendering="crispEdges"/>
<path d="M947.5 253.1V257.9" stroke="#ef5350" fill="none" shape-rendering="crispEdges"/>
<path d="M948.5 255.3V259.3" stroke="#26a69a" fill="none" shape-rendering="crispEdges"/>
<path d="M949.5 257.4V258.9" stroke="#ef5350" fill="none" shape-rendering="crispEdges"/>
<path d="M950.5 253.6V260.7" stroke="#26a69a" fill="none" shape-rendering="crispEdges"/>
<path d="M950.5 252.6V257.2M951.5 253.3V263.6M952.5 259.6V267.0" stroke="#ef5350" fill="none" shape-rendering="crispEdges"/>
<path d="M953.5 254.8V267.9" stroke="#26a69a" fill="none" shape-rendering="crispEdges"/>
<path d="M954.5 256.1V265.6" stroke="#ef5350" fill="none" shape-rendering="crispEdges"/>
<path d="M955.5 252.0V263.0M956.5 246.0V254.6" stroke="#26a69a" fill="none" shape-rendering="crispEdges"/>
<path d="M956.5 246.4V251.3" stroke="#ef5350" fill="none" shape-rendering="crispEdges"/>
<path d="M957.5 249.2V253.0M958.5 243.7V250.4" stroke="#26a69a" fill="none" shape-rendering="crispEdges"/>
<path d="M959.5 243.2V249.0" stroke="#ef5350" fill="none" shape-rendering="crispEdges"/>
<path d="M960.5 243.5V249.5" stroke="#26a69a" fill="none" shape-rendering="crispEdges"/>
<path d="M961.5 244.8V256.0" stroke="#ef5350" fill="none" shape-rendering="crispEdges"/>
<path d="M962.5 249.6V256.5" stroke="#26a69a" fill="none" shape-rendering="crispEdges"/>
<path d="M962.5 248.9V251.5M963.5 249.6V251.1M964.5 249.5V254.0" stroke="#ef5350" fill="none" shape-rendering="crispEdges"/>
<path d="M965.5 250.3V253.7M966.5 250.1V252.6" stroke="#26a69a" fill="none" shape-rendering="crispEdges"/>
<path d="M967.5 248.8V253.6M968.5 252.3V259.8" stroke="#ef5350" fill="none" shape-rendering="crispEdges"/>
<path d="M968.5 253.5V258.9" stroke="#26a69a" fill="none" shape-rendering="crispEdges"/>
<path d="M969.5 254.9V257.8" stroke="#ef5350" fill="none" shape-rendering="crispEdges"/>
<path d="M970.5 244.5V259.0" stroke="#26a69a" fill="none" shape-rendering="crispEdges"/>
<path d="M971.5 241.6V246.9M972.5 245.1V251.9M973.5 244.5V251.0" stroke="#ef5350" fill="none" shape-rendering="crispEdges"/>
<path d="M974.5 235.8V253.8M974.5 232.6V241.2" stroke="#26a69a" fill="none" shape-rendering="crispEdges"/>
<path d="M975.5 233.5V242.5" stroke="#ef5350" fill="none" shape-rendering="crispEdges"/>
<path d="M976.5 234.9V240.6" stroke="#26a69a" fill="none" shape-rendering="crispEdges"/>
<path d="M977.5 236.1V239.4" stroke="#ef5350" fill="none" shape-rendering="crispEdges"/>
<path d="M978.5 233.8V239.9" stroke="#26a69a" fill="none" shape-rendering="crispEdges"/>
<path d="M979.5 233.9V239.2" stroke="#ef5350" fill="none" shape-rendering="crispEdges"/>
<path d="M980.5 235.2V239.0" stroke="#26a69a" fill="none" shape-rendering="crispEdges"/>
<path d="M980.5 234.3V239.5M981.5 236.7V241.9M982.5 239.6V242.3" stroke="#ef5350" fill="none" shape-rendering="crispEdges"/>
<path d="M983.5 240.4V242.0" stroke="#26a69a" fill="none" shape-rendering="crispEdges"/>
<path d="M984.5 239.0V241.1" stroke="#ef5350" fill="none" shape-rendering="crispEdges"/>
<path d="M985.5 237.4V241.4" stroke="#26a69a" fill="none" shape-rendering="crispEdges"/>
<path d="M986.5 235.8V242.5" stroke="#ef5350" fill="none" shape-rendering="crispEdges"/>
<path d="M986.5 223.3V241.5" stroke="#26a69a" fill="none" shape-rendering="crispEdges"/>
<path d="M987.5 223.9V239.3" stroke="#ef5350" fill="none" shape-rendering="crispEdges"/>
<path d="M988.5 231.4V237.1M989.5 229.2V235.0M990.5 221.3V233.5" stroke="#26a69a" fill="none" shape-rendering="crispEdges"/>
<path d="M991.5 224.0V232.7" stroke="#ef5350" fill="none" shape-rendering="crispEdges"/>
<path d="M992.5 227.5V231.6M992.5 221.9V229.6" stroke="#26a69a" fill="none" shape-rendering="crispEdges"/>
<path d="M993.5 220.8V225.7M994.5 220.3V230.3M995.5 226.9V233.0M996.5 229.7V234.2" stroke="#ef5350" fill="none" shape-rendering="crispEdges"/>
<path d="M997.5 228.4V234.8" stroke="#26a69a" fill="none" shape-rendering="crispEdges"/>
<path d="M998.5 228.2V233.4M998.5 231.6V237.6" stroke="#ef5350" fill="none" shape-rendering="crispEdges"/>
<path d="M999.5 229.0V238.4" stroke="#26a69a" fill="none" shape-rendering="crispEdges"/>
<path d="M1000.5 228.7V234.4" stroke="#ef5350" fill="none" shape-rendering="crispEdges"/>
<path d="M1001.5 232.5V234.1" stroke="#26a69a" fill="none" shape-rendering="crispEdges"/>
<path d="M1002.5 231.6V237.5" stroke="#ef5350" fill="none" shape-rendering="crispEdges"/>
<path d="M1003.5 229.4V237.7" stroke="#26a69a" fill="none" shape-rendering="crispEdges"/>
<path d="M1004.5 228.7V233.2" stroke="#ef5350" fill="none" shape-rendering="crispEdges"/>
<path d="M1005.5 227.1V231.7" stroke="#26a69a" fill="none" shape-rendering="crispEdges"/>
<path d="M1005.5 228.1V233.2M1006.5 232.0V234.1M1007.5 232.5V235.5" stroke="#ef5350" fill="none" shape-rendering="crispEdges"/>
<path d="M1008.5 229.7V235.8" stroke="#26a69a" fill="none" shape-rendering="crispEdges"/>
<path d="M1009.5 228.8V232.5M1010.5 231.8V235.4" stroke="#ef5350" fill="none" shape-rendering="crispEdges"/>
<path d="M1011.5 227.9V236.3" stroke="#26a69a" fill="none" shape-rendering="crispEdges"/>
<path d="M1011.5 226.6V231.7" stroke="#ef5350" fill="none" shape-rendering="crispEdges"/>
<path d="M1012.5 229.9V232.3" stroke="#26a69a" fill="none" shape-rendering="crispEdges"/>
<path d="M1013.5 229.2V233.6M1014.5 231.4V234.8" stroke="#ef5350" fill="none" shape-rendering="crispEdges"/>
<path d="M1015.5 227.1V234.3" stroke="#26a69a" fill="none" shape-rendering="crispEdges"/>
<path d="M1016.5 227.4V235.0" stroke="#ef5350" fill="none" shape-rendering="crispEdges"/>
<path d="M1017.5 229.4V234.9M1017.5 227.4V231.9M1018.5 223.1V230.3" stroke="#26a69a" fill="none" shape-rendering="crispEdges"/>
<path d="M1019.5 222.6V240.9" stroke="#ef5350" fill="none" shape-rendering="crispEdges"/>
<path d="M1020.5 228.1V243.1" stroke="#26a69a" fill="none" shape-rendering="crispEdges"/>
<path d="M1021.5 228.0V238.0" stroke="#ef5350" fill="none" shape-rendering="crispEdges"/>
<path d="M1022.5 234.4V241.4" stroke="#26a69a" fill="none" shape-rendering="crispEdges"/>
<path d="M1023.5 234.9V244.8" stroke="#ef5350" fill="none" shape-rendering="crispEdges"/>
<path d="M1023.5 242.5V244.6" stroke="#26a69a" fill="none" shape-rendering="crispEdges"/>
<path d="M1024.5 240.8V246.7M1025.5 245.0V248.4" stroke="#ef5350" fill="none" shape-rendering="crispEdges"/>
<path d="M1026.5 240.1V248.6" stroke="#26a69a" fill="none" shape-rendering="crispEdges"/>
<path d="M1027.5 241.0V247.8M1028.5 244.5V250.2" stroke="#ef5350" fill="none" shape-rendering="crispEdges"/>
<path d="M1029.5 238.1V248.7" stroke="#26a69a" fill="none" shape-rendering="crispEdges"/>
<path d="M1029.5 236.4V242.8" stroke="#ef5350" fill="none" shape-rendering="crispEdges"/>
<path d="M1030.5 231.1V241.9M1031.5 230.3V232.9" stroke="#26a69a" fill="none" shape-rendering="crispEdges"/>
<path d="M1032.5 231.9V233.7M1033.5 231.1V235.3" stroke="#ef5350" fill="none" shape-rendering="crispEdges"/>
<path d="M1034.5 231.3V235.1" stroke="#26a69a" fill="none" shape-rendering="crispEdges"/>
<path d="M1035.5 231.2V233.3" stroke="#ef5350" fill="none" shape-rendering="crispEdges"/>
<path d="M1035.5 231.7V233.2" stroke="#26a69a" fill="none" shape-rendering="crispEdges"/>
<path d="M1036.5 230.9V235.5" stroke="#ef5350" fill="none" shape-rendering="crispEdges"/>
<path d="M1037.5 232.2V235.9" stroke="#26a69a" fill="none" shape-rendering="crispEdges"/>
<path d="M1038.5 232.8V242.5" stroke="#ef5350" fill="none" shape-rendering="crispEdges"/>
<path d="M1039.5 236.6V242.4" stroke="#26a69a" fill="none" shape-rendering="crispEdges"/>
<path d="M1040.5 235.8V240.3M1041.5 238.3V241.9M1041.5 240.1V242.6" stroke="#ef5350" fill="none" shape-rendering="crispEdges"/>
<path d="M1042.5 238.6V243.1M1043.5 231.8V240.5" stroke="#26a69a" fill="none" shape-rendering="crispEdges"/>
<path d="M1044.5 230.8V235.1" stroke="#ef5350" fill="none" shape-rendering="crispEdges"/>
<path d="M1045.5 232.4V235.8" stroke="#26a69a" fill="none" shape-rendering="crispEdges"/>
<path d="M1046.5 231.0V237.8M1047.5 236.6V238.1" stroke="#ef5350" fill="none" shape-rendering="crispEdges"/>
<path d="M1047.5 233.1V238.6M1048.5 233.4V236.3" stroke="#26a69a" fill="none" shape-rendering="crispEdges"/>
<path d="M1049.5 233.7V236.5" stroke="#ef5350" fill="none" shape-rendering="crispEdges"/>
<path d="M1050.5 230.5V235.9M1051.5 229.3V232.4" stroke="#26a69a" fill="none" shape-rendering="crispEdges"/>
<path d="M1052.5 229.6V233.2" stroke="#ef5350" fill="none" shape-rendering="crispEdges"/>
<path d="M1053.5 229.7V232.1" stroke="#26a69a" fill="none" shape-rendering="crispEdges"/>
<path d="M1053.5 229.5V232.6M1054.5 230.7V233.1" stroke="#ef5350" fill="none" shape-rendering="crispEdges"/>
<path d="M1055.5 230.9V234.0" stroke="#26a69a" fill="none" shape-rendering="crispEdges"/>
<path d="M1056.5 229.7V232.8" stroke="#ef5350" fill="none" shape-rendering="crispEdges"/>
<path d="M1057.5 229.7V233.5" stroke="#26a69a" fill="none" shape-rendering="crispEdges"/>
<path d="M1058.5 229.7V233.1" stroke="#ef5350" fill="none" shape-rendering="crispEdges"/>
<path d="M1059.5 229.4V232.2M1060.5 225.6V231.4" stroke="#26a69a" fill="none" shape-rendering="crispEdges"/>
<path d="M1060.5 226.2V228.8" stroke="#ef5350" fill="none" shape-rendering="crispEdges"/>
<path d="M1061.5 227.4V229.0M1062.5 226.6V228.5" stroke="#26a69a" fill="none" shape-rendering="crispEdges"/>
<path d="M1063.5 225.9V229.6" stroke="#ef5350" fill="none" shape-rendering="crispEdges"/>
<path d="M1064.5 227.3V228.8" stroke="#26a69a" fill="none" shape-rendering="crispEdges"/>
<path d="M1065.5 227.7V229.5" stroke="#ef5350" fill="none" shape-rendering="crispEdges"/>
<path d="M1066.5 228.7V230.2M1066.5 222.5V230.4" stroke="#26a69a" fill="none" shape-rendering="crispEdges"/>
<path d="M1067.5 223.5V233.3" stroke="#ef5350" fill="none" shape-rendering="crispEdges"/>
<path d="M1068.5 213.7V233.6" stroke="#26a69a" fill="none" shape-rendering="crispEdges"/>
<path d="M1069.5 212.9V221.3" stroke="#ef5350" fill="none" shape-rendering="crispEdges"/>
<path d="M1070.5 211.1V219.1" stroke="#26a69a" fill="none" shape-rendering="crispEdges"/>
<path d="M1071.5 212.6V224.8" stroke="#ef5350" fill="none" shape-rendering="crispEdges"/>
<path d="M1072.5 209.1V222.6" stroke="#26a69a" fill="none" shape-rendering="crispEdges"/>
<path d="M1072.5 210.5V217.7M1073.5 215.5V222.3" stroke="#ef5350" fill="none" shape-rendering="crispEdges"/>
<path d="M1074.5 218.0V222.2M1075.5 216.2V221.7" stroke="#26a69a" fill="none" shape-rendering="crispEdges"/>
<path d="M1076.5 215.9V223.9M1077.5 222.9V226.0" stroke="#ef5350" fill="none" shape-rendering="crispEdges"/>
<path d="M1078.5 213.6V224.9" stroke="#26a69a" fill="none" shape-rendering="crispEdges"/>
<path d="M1078.5 213.5V220.5" stroke="#ef5350" fill="none" shape-rendering="crispEdges"/>
<path d="M1079.5 211.0V220.4M1080.5 210.1V213.7" stroke="#26a69a" fill="none" shape-rendering="crispEdges"/>
<path d="M1081.5 211.6V216.6" stroke="#ef5350" fill="none" shape-rendering="crispEdges"/>
<path d="M1082.5 211.4V216.3" stroke="#26a69a" fill="none" shape-rendering="crispEdges"/>
<path d="M1083.5 209.4V220.3M1084.5 215.9V222.5" stroke="#ef5350" fill="none" shape-rendering="crispEdges"/>
<path d="M1084.5 219.2V221.6M1085.5 212.8V220.8" stroke="#26a69a" fill="none" shape-rendering="crispEdges"/>
<path d="M1086.5 213.3V218.5" stroke="#ef5350" fill="none" shape-rendering="crispEdges"/>
<path d="M1087.5 213.6V220.1" stroke="#26a69a" fill="none" shape-rendering="crispEdges"/>
<path d="M1088.5 214.9V217.4M1089.5 214.0V221.7M1090.5 218.6V223.4" stroke="#ef5350" fill="none" shape-rendering="crispEdges"/>
<path d="M1090.5 216.9V225.0" stroke="#26a69a" fill="none" shape-rendering="crispEdges"/>
<path d="M1091.5 217.6V237.7" stroke="#ef5350" fill="none" shape-rendering="crispEdges"/>
<path d="M1092.5 226.8V236.6M1093.5 225.4V232.3" stroke="#26a69a" fill="none" shape-rendering="crispEdges"/>
<path d="M1094.5 226.9V230.8M1095.5 230.7V242.6M1096.5 240.0V243.0" stroke="#ef5350" fill="none" shape-rendering="crispEdges"/>
<path d="M1096.5 236.2V243.5M1097.5 236.0V238.3" stroke="#26a69a" fill="none" shape-rendering="crispEdges"/>
<path d="M1098.5 235.3V240.2M1099.5 238.3V244.7" stroke="#ef5350" fill="none" shape-rendering="crispEdges"/>
<path d="M1100.5 235.4V245.1" stroke="#26a69a" fill="none" shape-rendering="crispEdges"/>
<path d="M1101.5 236.3V240.2M1102.5 238.2V250.1" stroke="#ef5350" fill="none" shape-rendering="crispEdges"/>
<path d="M1102.5 242.4V250.6" stroke="#26a69a" fill="none" shape-rendering="crispEdges"/>
<path d="M1103.5 242.8V247.4" stroke="#ef5350" fill="none" shape-rendering="crispEdges"/>
<path d="M1104.5 244.5V247.1" stroke="#26a69a" fill="none" shape-rendering="crispEdges"/>
<path d="M1105.5 243.1V251.0" stroke="#ef5350" fill="none" shape-rendering="crispEdges"/>
<path d="M1106.5 248.5V251.5M1107.5 242.1V250.4" stroke="#26a69a" fill="none" shape-rendering="crispEdges"/>
<path d="M1108.5 241.7V254.2" stroke="#ef5350" fill="none" shape-rendering="crispEdges"/>
<path d="M1108.5 250.5V255.0M1109.5 247.3V254.8M1110.5 247.7V252.5" stroke="#26a69a" fill="none" shape-rendering="crispEdges"/>
<path d="M1111.5 247.3V250.9M1112.5 247.0V255.1" stroke="#ef5350" fill="none" shape-rendering="crispEdges"/>
<path d="M1113.5 244.3V254.4" stroke="#26a69a" fill="none" shape-rendering="crispEdges"/>
<path d="M1114.5 244.5V251.0" stroke="#ef5350" fill="none" shape-rendering="crispEdges"/>
<path d="M1115.5 244.0V251.3" stroke="#26a69a" fill="none" shape-rendering="crispEdges"/>
<path d="M1115.5 244.2V249.8M1116.5 248.2V250.1" stroke="#ef5350" fill="none" shape-rendering="crispEdges"/>
<path d="M1117.5 243.8V250.0" stroke="#26a69a" fill="none" shape-rendering="crispEdges"/>
<path d="M1118.5 244.3V249.7" stroke="#ef5350" fill="none" shape-rendering="crispEdges"/>
<path d="M1119.5 248.6V250.1M1120.5 244.8V250.3" stroke="#26a69a" fill="none" shape-rendering="crispEdges"/>
<path d="M1121.5 246.0V253.8" stroke="#ef5350" fill="none" shape-rendering="crispEdges"/>
<path d="M1121.5 248.5V253.6" stroke="#26a69a" fill="none" shape-rendering="crispEdges"/>
<path d="M1122.5 248.9V254.6" stroke="#ef5350" fill="none" shape-rendering="crispEdges"/>
<path d="M1123.5 246.7V253.8" stroke="#26a69a" fill="none" shape-rendering="crispEdges"/>
<path d="M1124.5 245.7V248.3M1125.5 248.2V255.9" stroke="#ef5350" fill="none" shape-rendering="crispEdges"/>
<path d="M1126.5 251.5V253.5M1127.5 249.0V254.3M1127.5 241.7V250.9" stroke="#26a69a" fill="none" shape-rendering="crispEdges"/>
<path d="M1128.5 243.5V246.4M1129.5 243.8V247.1" stroke="#ef5350" fill="none" shape-rendering="crispEdges"/>
<path d="M1130.5 244.3V247.9M1131.5 242.5V246.0" stroke="#26a69a" fill="none" shape-rendering="crispEdges"/>
<path d="M1132.5 243.4V247.2" stroke="#ef5350" fill="none" shape-rendering="crispEdges"/>
<path d="M1133.5 242.0V248.2" stroke="#26a69a" fill="none" shape-rendering="crispEdges"/>
<path d="M1133.5 242.4V248.0M1134.5 245.0V252.9M1135.5 245.2V266.3M1136.5 256.8V264.0" stroke="#ef5350" fill="none" shape-rendering="crispEdges"/>
<path d="M1137.5 257.0V266.1" stroke="#26a69a" fill="none" shape-rendering="crispEdges"/>
<path d="M1138.5 260.8V269.3" stroke="#ef5350" fill="none" shape-rendering="crispEdges"/>
<path d="M1139.5 261.0V267.1M1139.5 259.0V263.6M1140.5 255.4V262.4" stroke="#26a69a" fill="none" shape-rendering="crispEdges"/>
<path d="M1141.5 254.2V262.2M1142.5 257.8V262.7" stroke="#ef5350" fill="none" shape-rendering="crispEdges"/>
<path d="M1143.5 254.7V261.8M1144.5 252.7V257.2" stroke="#26a69a" fill="none" shape-rendering="crispEdges"/>
<path d="M1145.5 252.4V263.4" stroke="#ef5350" fill="none" shape-rendering="crispEdges"/>
<path d="M1145.5 259.0V264.0M1146.5 260.5V264.4M1147.5 257.7V262.2" stroke="#26a69a" fill="none" shape-rendering="crispEdges"/>
<path d="M1148.5 256.6V264.4M1149.5 261.9V266.0M1150.5 263.3V270.3" stroke="#ef5350" fill="none" shape-rendering="crispEdges"/>
<path d="M1151.5 264.0V269.0M1151.5 260.6V268.7M1152.5 258.6V262.7" stroke="#26a69a" fill="none" shape-rendering="crispEdges"/>
<path d="M1153.5 258.8V265.7" stroke="#ef5350" fill="none" shape-rendering="crispEdges"/>
<path d="M1154.5 260.5V265.0M1155.5 260.9V262.4M1156.5 255.1V262.0" stroke="#26a69a" fill="none" shape-rendering="crispEdges"/>
<path d="M1157.5 255.3V261.5M1157.5 257.1V266.0M1158.5 262.9V265.9" stroke="#ef5350" fill="none" shape-rendering="crispEdges"/>
<path d="M1159.5 260.1V266.7" stroke="#26a69a" fill="none" shape-rendering="crispEdges"/>
<path d="M1160.5 260.2V266.3M1161.5 260.9V284.4" stroke="#ef5350" fill="none" shape-rendering="crispEdges"/>
<path d="M1162.5 277.7V283.4M1163.5 269.3V282.2" stroke="#26a69a" fill="none" shape-rendering="crispEdges"/>
<path d="M1163.5 271.3V280.4M1164.5 279.5V284.7" stroke="#ef5350" fill="none" shape-rendering="crispEdges"/>
<path d="M1165.5 275.8V283.7" stroke="#26a69a" fill="none" shape-rendering="crispEdges"/>
<path d="M1166.5 275.7V283.5" stroke="#ef5350" fill="none" shape-rendering="crispEdges"/>
<path d="M1167.5 278.7V282.6" stroke="#26a69a" fill="none" shape-rendering="crispEdges"/>
<path d="M1168.5 278.4V283.7" stroke="#ef5350" fill="none" shape-rendering="crispEdges"/>
<path d="M1169.5 279.3V282.9M1170.5 277.0V282.5" stroke="#26a69a" fill="none" shape-rendering="crispEdges"/>
<path d="M1170.5 275.3V281.3" stroke="#ef5350" fill="none" shape-rendering="crispEdges"/>
<path d="M1171.5 273.4V279.7" stroke="#26a69a" fill="none" shape-rendering="crispEdges"/>
<path d="M1172.5 272.7V287.9" stroke="#ef5350" fill="none" shape-rendering="crispEdges"/>
<path d="M1173.5 264.6V283.1" stroke="#26a69a" fill="none" shape-rendering="crispEdges"/>
<path d="M1174.5 267.8V283.7" stroke="#ef5350" fill="none" shape-rendering="crispEdges"/>
<path d="M1175.5 266.3V281.0M1176.5 265.9V267.7M1176.5 264.8V267.2M1177.5 255.0V267.0" stroke="#26a69a" fill="none" shape-rendering="crispEdges"/>
<path d="M1178.5 254.7V265.5" stroke="#ef5350" fill="none" shape-rendering="crispEdges"/>
<path d="M1179.5 252.0V264.5" stroke="#26a69a" fill="none" shape-rendering="crispEdges"/>
<path d="M1180.5 253.5V255.3" stroke="#ef5350" fill="none" shape-rendering="crispEdges"/>
<path d="M1181.5 252.7V255.5M1182.5 253.0V254.5" stroke="#26a69a" fill="none" shape-rendering="crispEdges"/>
<path d="M1182.5 252.9V254.4" stroke="#ef5350" fill="none" shape-rendering="crispEdges"/>
<path d="M1183.5 253.2V254.7" stroke="#26a69a" fill="none" shape-rendering="crispEdges"/>
<path d="M1184.5 251.4V256.1" stroke="#ef5350" fill="none" shape-rendering="crispEdges"/>
<path d="M1185.5 250.8V256.8" stroke="#26a69a" fill="none" shape-rendering="crispEdges"/>
<path d="M1186.5 248.8V258.3M1187.5 255.2V261.8" stroke="#ef5350" fill="none" shape-rendering="crispEdges"/>
<path d="M1188.5 254.3V259.5" stroke="#26a69a" fill="none" shape-rendering="crispEdges"/>
<path d="M1188.5 254.3V259.3" stroke="#ef5350" fill="none" shape-rendering="crispEdges"/>
<path d="M1189.5 248.8V260.6" stroke="#26a69a" fill="none" shape-rendering="crispEdges"/>
<path d="M1190.5 251.7V258.9" stroke="#ef5350" fill="none" shape-rendering="crispEdges"/>
<path d="M1191.5 253.2V259.1" stroke="#26a69a" fill="none" shape-rendering="crispEdges"/>
<path d="M1192.5 253.4V256.1" stroke="#ef5350" fill="none" shape-rendering="crispEdges"/>
<path d="M1193.5 253.4V254.9" stroke="#26a69a" fill="none" shape-rendering="crispEdges"/>
<path d="M1194.5 252.8V254.7" stroke="#ef5350" fill="none" shape-rendering="crispEdges"/>
<path d="M1194.5 251.7V255.7M1195.5 250.7V254.4" stroke="#26a69a" fill="none" shape-rendering="crispEdges"/>
<path d="M1196.5 251.4V256.8M1197.5 253.0V258.7" stroke="#ef5350" fill="none" shape-rendering="crispEdges"/>
<path d="M1198.5 248.3V257.7M1199.5 248.0V253.6M1200.5 247.6V249.8" stroke="#26a69a" fill="none" shape-rendering="crispEdges"/>
<path d="M1200.5 247.8V252.7M1201.5 250.2V260.1" stroke="#ef5350" fill="none" shape-rendering="crispEdges"/>
<path d="M1202.5 253.5V257.1" stroke="#26a69a" fill="none" shape-rendering="crispEdges"/>
<path d="M1203.5 254.8V264.4" stroke="#ef5350" fill="none" shape-rendering="crispEdges"/>
<path d="M1204.5 257.7V264.3" stroke="#26a69a" fill="none" shape-rendering="crispEdges"/>
<path d="M1205.5 258.6V265.1" stroke="#ef5350" fill="none" shape-rendering="crispEdges"/>
<path d="M1206.5 263.6V266.1M1206.5 261.6V265.8M1207.5 260.8V262.6" stroke="#26a69a" fill="none" shape-rendering="crispEdges"/>
<path d="M1208.5 261.5V265.0" stroke="#ef5350" fill="none" shape-rendering="crispEdges"/>
<path d="M1209.5 259.8V264.3" stroke="#26a69a" fill="none" shape-rendering="crispEdges"/>
<path d="M1210.5 260.8V265.6M1211.5 263.4V265.1" stroke="#ef5350" fill="none" shape-rendering="crispEdges"/>
<path d="M1212.5 262.9V266.6M1212.5 262.7V264.3" stroke="#26a69a" fill="none" shape-rendering="crispEdges"/>
<path d="M1213.5 260.9V267.7" stroke="#ef5350" fill="none" shape-rendering="crispEdges"/>
<path d="M1214.5 263.9V269.2" stroke="#26a69a" fill="none" shape-rendering="crispEdges"/>
<path d="M1215.5 263.0V270.9M1216.5 263.7V278.3" stroke="#ef5350" fill="none" shape-rendering="crispEdges"/>
<path d="M1217.5 262.8V276.2M1218.5 261.8V269.2" stroke="#26a69a" fill="none" shape-rendering="crispEdges"/>
<path d="M1218.5 263.5V267.6M1219.5 265.2V289.9" stroke="#ef5350" fill="none" shape-rendering="crispEdges"/>
<path d="M1220.5 274.4V290.2" stroke="#26a69a" fill="none" shape-rendering="crispEdges"/>
<path d="M1221.5 276.5V282.2" stroke="#ef5350" fill="none" shape-rendering="crispEdges"/>
<path d="M1222.5 270.9V284.3" stroke="#26a69a" fill="none" shape-rendering="crispEdges"/>
<path d="M1223.5 269.6V289.0" stroke="#ef5350" fill="none" shape-rendering="crispEdges"/>
<path d="M1224.5 274.3V289.0" stroke="#26a69a" fill="none" shape-rendering="crispEdges"/>
<path d="M1225.5 273.6V288.1" stroke="#ef5350" fill="none" shape-rendering="crispEdges"/>
<path d="M1225.5 277.2V286.5" stroke="#26a69a" fill="none" shape-rendering="crispEdges"/>
<path d="M1226.5 274.1V286.9M1227.5 282.2V295.0" stroke="#ef5350" fill="none" shape-rendering="crispEdges"/>
<path d="M1228.5 285.6V291.9M1229.5 282.7V295.2" stroke="#26a69a" fill="none" shape-rendering="crispEdges"/>
<path d="M1230.5 285.9V295.2M1231.5 288.4V293.3M1231.5 289.9V294.6" stroke="#ef5350" fill="none" shape-rendering="crispEdges"/>
<path d="M1232.5 286.2V292.5M1233.5 283.1V290.1M1234.5 282.4V285.1M1235.5 275.9V282.8M1236.5 275.4V277.5" stroke="#26a69a" fill="none" shape-rendering="crispEdges"/>
<path d="M1237.5 275.1V278.2M1237.5 275.7V281.2" stroke="#ef5350" fill="none" shape-rendering="crispEdges"/>
<path d="M1238.5 278.8V280.8M1239.5 275.5V279.4" stroke="#26a69a" fill="none" shape-rendering="crispEdges"/>
<path d="M1240.5 275.5V280.2M1241.5 277.6V283.3" stroke="#ef5350" fill="none" shape-rendering="crispEdges"/>
<path d="M1242.5 279.5V282.5" stroke="#26a69a" fill="none" shape-rendering="crispEdges"/>
<path d="M1243.5 280.7V282.4M1243.5 280.7V284.5M1244.5 281.4V283.9" stroke="#ef5350" fill="none" shape-rendering="crispEdges"/>
<path d="M1245.5 275.5V285.1" stroke="#26a69a" fill="none" shape-rendering="crispEdges"/>
<path d="M1246.5 276.4V278.9" stroke="#ef5350" fill="none" shape-rendering="crispEdges"/>
<path d="M1247.5 276.3V278.9" stroke="#26a69a" fill="none" shape-rendering="crispEdges"/>
<path d="M1248.5 277.4V281.2M1249.5 279.0V288.9M1249.5 284.9V289.6" stroke="#ef5350" fill="none" shape-rendering="crispEdges"/>
<path d="M1250.5 279.8V290.3" stroke="#26a69a" fill="none" shape-rendering="crispEdges"/>
<path d="M1251.5 279.8V284.9" stroke="#ef5350" fill="none" shape-rendering="crispEdges"/>
<path d="M1252.5 278.4V284.5" stroke="#26a69a" fill="none" shape-rendering="crispEdges"/>
<path d="M1253.5 276.8V283.0M1254.5 277.2V286.7M1255.5 280.7V286.2M1255.5 282.3V297.7" stroke="#ef5350" fill="none" shape-rendering="crispEdges"/>
<path d="M1256.5 279.5V299.6" stroke="#26a69a" fill="none" shape-rendering="crispEdges"/>
<path d="M1257.5 282.1V300.2M1258.5 295.1V301.1" stroke="#ef5350" fill="none" shape-rendering="crispEdges"/>
<path d="M1259.5 279.3V302.6" stroke="#26a69a" fill="none" shape-rendering="crispEdges"/>
<path d="M1260.5 282.3V297.2" stroke="#ef5350" fill="none" shape-rendering="crispEdges"/>
<path d="M1261.5 289.9V297.5" stroke="#26a69a" fill="none" shape-rendering="crispEdges"/>
<polyline points="6.9,479.1 8.1,484.9 9.2,463.0 10.4,466.4 11.5,456.1 12.7,459.5 13.8,471.1 15.0,480.3 16.1,481.4 17.3,482.6 18.4,489.5 19.6,506.8 20.7,522.9 22.4,532.1 23.5,501.0 24.6,506.8 25.4,511.4 26.5,503.3 27.6,522.9 28.8,514.8 29.9,502.2 31.1,483.7 32.3,506.8 33.4,488.3 34.6,499.9 35.7,490.6 36.9,498.7 38.0,489.5 39.2,492.9 40.3,496.4 41.5,507.9 42.6,495.2 43.8,483.7 44.9,481.4 46.1,476.8 47.2,479.1 48.4,472.2 49.5,467.6 50.7,474.5 51.8,474.5 53.0,480.3 54.1,456.1 54.8,445.7 55.8,454.9 56.9,451.5 58.1,451.5 59.5,442.3 60.4,449.2 61.1,463.0 62.2,467.6 63.4,490.6 64.5,494.1 65.7,495.2 66.8,483.7 68.0,478.0 69.1,481.4 70.3,496.4 71.4,502.2 72.6,531.0 73.7,527.5 74.9,527.5 76.0,528.7 77.2,524.1 78.3,524.1 79.5,520.6 80.7,511.4 81.8,497.6 83.0,486.0 84.1,484.9 84.8,511.4 85.7,504.5 87.1,509.1 87.6,524.1 88.7,488.3 89.9,480.3 91.0,479.1 92.2,478.0 93.3,497.6 94.5,506.8 95.6,499.9 96.8,488.3 97.9,472.2 99.1,479.1 100.2,496.4 101.4,476.8 102.5,473.4 103.7,478.0 104.8,495.2 106.0,503.3 107.1,509.1 108.3,518.3 109.5,529.8 110.6,535.6 111.8,518.3 112.9,517.1 114.1,531.0 115.2,548.2 116.4,540.2 117.5,534.4 118.7,516.0 119.8,520.6 121.0,513.7 122.1,509.1 123.3,503.3 124.4,495.2 125.6,497.6 126.3,483.7 127.2,476.8 127.9,481.4 129.0,497.6 130.2,518.3 131.3,507.9 132.5,504.5 133.6,491.8 134.8,483.7 135.9,480.3 137.1,475.7 138.2,474.5 139.4,472.2 140.6,476.8 141.7,478.0 142.9,474.5 144.0,471.1 145.2,452.6 146.3,468.8 147.5,472.2 148.6,465.3 149.8,454.9 150.9,453.8 152.1,474.5 153.2,475.7 154.4,479.1 155.5,486.0 156.7,492.9 157.8,481.4 159.0,467.6 160.1,459.5 161.3,463.0 162.4,469.9 163.6,483.7 164.8,489.5 165.9,502.2 167.1,486.0 168.2,479.1 169.3,476.8 170.5,492.9 171.7,476.8 172.8,472.2 174.0,468.8 175.1,469.9 176.3,474.5 177.4,488.3 178.6,479.1 179.7,474.5 180.9,486.0 182.0,492.9 183.2,511.4 184.3,533.3 185.5,535.6 186.6,539.0 187.8,544.8 188.5,518.3 189.4,513.7 190.3,502.2 191.2,488.3 192.4,484.9 193.6,479.1 194.7,474.5 195.8,469.9 197.0,472.2 198.2,463.0 199.3,442.3 200.8,428.4 201.9,437.6 203.1,444.6 204.2,451.5 205.4,446.9 206.5,450.3 207.7,460.7 208.8,465.3 210.0,469.9 211.1,473.4 212.3,479.1 213.4,486.0 214.1,502.2 215.1,518.3 216.2,513.7 217.3,496.4 218.5,520.6 219.4,534.4 220.3,520.6 221.5,513.7 222.7,518.3 223.8,511.4 224.5,506.8 225.4,520.6 226.3,534.4 227.3,513.7 228.4,497.6 229.6,504.5 230.7,488.3 231.4,480.3 232.3,490.6 233.5,489.5 234.6,492.9 235.8,497.6 236.5,499.9 237.6,492.9 238.8,483.7 239.5,479.1 240.4,486.0 241.5,483.7 242.7,486.0 243.4,492.9 244.1,511.4 245.0,502.2 246.2,506.8 247.1,497.6 248.0,492.9 248.7,501.0 249.6,479.1 250.8,467.6 251.9,465.3 253.1,467.6 254.2,459.5 255.4,458.4 256.3,466.4 257.2,469.9 258.4,472.2 259.5,467.6 260.7,464.1 261.8,469.9 263.0,490.6 264.1,502.2 265.3,504.5 266.4,506.8 267.6,491.8 268.7,502.2 269.4,522.9 270.4,532.1 271.5,531.0 272.4,539.0 273.3,520.6 274.3,492.9 275.2,474.5 276.1,460.7 277.0,452.6 277.9,451.5 279.1,448.0 280.2,443.4 281.4,453.8 282.6,459.5 283.5,452.6 284.4,450.3 285.3,458.4 286.2,463.0 287.2,461.8 288.3,466.4 289.5,467.6 290.6,456.1 291.8,433.0 292.9,431.9 294.1,439.9 295.2,438.8 296.4,437.6 297.5,441.1 298.7,436.5 299.8,430.7 301.0,442.3 302.1,449.2 303.3,446.9 304.4,461.8 305.6,452.6 306.8,458.4 307.9,451.5 309.1,463.0 310.2,456.1 311.4,448.0 312.5,438.8 313.7,465.3 314.8,464.1 316.0,476.8 317.1,484.9 318.3,481.4 319.4,481.4 320.6,484.9 321.7,490.6 322.9,492.9 323.6,505.6 324.5,492.9 325.4,490.6 326.3,486.0 327.5,479.1 328.6,472.2 329.8,466.4 330.9,469.9 332.1,479.1 333.2,492.9 334.4,509.1 335.6,514.8 336.7,505.6 337.9,502.2 339.0,504.5 340.2,495.2 341.3,479.1 342.5,472.2 343.6,468.8 344.8,481.4 345.9,472.2 347.1,463.0 348.2,458.4 349.4,465.3 350.5,449.2 351.7,436.5 352.8,434.2 354.0,442.3 355.1,444.6 356.3,435.4 357.4,427.3 358.6,459.5 359.8,442.3 360.9,428.4 362.1,429.6 363.2,433.0 364.4,435.4 365.5,438.8 366.7,439.9 367.8,443.4 369.0,449.2 370.1,451.5 371.3,453.8 372.4,442.3 373.6,456.1 374.7,474.5 375.9,446.9 377.0,441.1 378.2,449.2 379.3,460.7 380.5,471.1 381.6,479.1 382.8,483.7 383.9,486.0 384.6,498.7 385.6,486.0 386.5,490.6 387.4,483.7 388.6,495.2 389.7,503.3 390.9,506.8 392.0,511.4 393.2,516.0 394.3,525.2 395.8,527.1 396.4,502.9 397.4,517.9 398.5,520.2 399.7,524.8 400.8,536.3 402.2,540.9 403.1,515.6 404.3,511.0 405.4,496.0 406.6,499.5 407.7,500.6 408.9,513.3 410.1,512.1 411.2,521.4 412.4,515.6 413.5,504.1 414.6,490.2 415.8,494.9 417.0,489.1 418.1,484.5 419.3,483.3 420.4,474.1 421.6,466.1 422.7,468.4 423.9,469.5 425.0,481.0 426.2,506.4 427.3,530.6 428.5,522.5 429.6,506.4 430.8,494.9 431.9,493.7 433.1,474.1 434.2,464.9 435.4,481.0 436.5,484.5 437.7,496.0 438.9,485.6 440.0,471.8 441.1,484.5 442.3,478.7 443.5,474.1 444.6,464.9 445.8,469.5 446.9,468.4 448.1,478.7 449.2,481.0 450.4,489.1 451.5,467.2 452.7,460.3 453.8,451.1 455.0,441.9 456.1,439.6 457.3,432.6 458.4,428.0 459.6,437.3 460.7,438.4 461.9,434.9 463.0,443.0 464.2,449.9 465.4,447.6 466.5,445.3 467.6,443.0 468.8,439.6 469.9,460.3 471.1,476.4 472.3,474.1 473.4,467.2 474.6,453.4 475.7,447.6 476.9,449.9 478.0,460.3 479.2,471.8 480.3,456.8 481.5,458.0 482.6,469.5 483.8,469.5 484.9,471.8 486.1,483.3 487.2,485.6 488.4,478.7 489.5,477.6 490.7,490.2 491.4,493.7 492.5,451.1 493.7,423.4 494.8,415.4 496.0,413.1 497.1,423.4 498.3,426.9 499.4,438.4 500.6,432.6 501.8,439.6 502.9,443.0 504.1,445.3 505.2,440.7 506.4,439.6 507.5,434.9 508.7,426.9 509.8,418.8 511.0,434.9 512.1,437.3 513.3,483.3 514.4,478.7 515.6,479.9 516.7,478.7 517.9,469.5 519.0,460.3 520.2,471.8 521.3,468.4 522.5,455.7 523.6,439.6 524.8,460.3 525.9,478.7 527.1,483.3 528.2,484.5 529.4,474.1 530.5,460.3 531.7,459.1 532.9,460.3 534.0,481.0 535.2,475.3 536.3,478.7 537.5,462.6 538.6,449.9 539.8,460.3 540.9,466.1 542.1,482.2 543.2,471.8 544.4,453.4 545.5,467.2 546.7,462.6 547.8,446.5 549.0,437.3 550.1,464.9 551.3,458.0 552.4,453.4 553.6,451.1 554.8,445.3 555.9,434.9 557.0,432.6 558.2,428.0 559.4,421.1 560.5,414.2 561.7,425.7 562.8,428.0 564.0,430.4 565.1,426.9 566.3,423.4 567.4,422.3 568.6,440.7 569.7,437.3 570.9,433.8 572.0,433.8 573.2,446.5 574.3,458.0 575.5,485.6 576.6,476.4 577.8,471.8 578.9,469.5 580.1,481.0 581.2,479.9 582.4,483.3 583.5,497.2 584.7,515.6 585.9,522.5 586.5,529.4 587.7,519.1 588.6,515.6 589.6,501.8 590.8,504.1 591.9,494.9 592.6,486.8 593.5,513.3 594.7,511.0 595.8,497.2 597.0,506.4 598.1,497.2 599.3,490.2 600.4,499.5 601.6,493.7 602.7,496.0 603.9,499.5 605.0,515.6 606.2,508.7 607.4,513.3 608.5,494.9 609.6,476.4 610.8,471.8 612.0,469.5 613.1,463.8 614.3,481.0 615.4,471.8 616.6,470.7 617.7,464.9 618.9,459.1 620.0,464.9 621.2,477.6 622.3,466.1 623.5,492.6 624.6,499.5 625.8,506.4 626.9,501.8 628.1,494.9 629.2,491.4 630.4,499.5 631.5,513.3 632.5,522.5 633.4,515.6 634.5,524.8 635.7,519.1 636.8,522.5 638.0,527.1 639.1,511.0 640.3,492.6 641.5,485.6 642.6,491.4 643.8,485.6 644.9,507.5 646.1,492.6 647.2,483.3 648.4,499.5 649.5,490.2 650.7,483.3 651.8,478.7 653.0,492.6 653.7,502.9 654.6,484.5 655.7,476.4 656.9,474.1 658.0,473.0 659.2,470.7 660.4,474.1 661.0,458.0 662.2,456.8 663.3,471.8 664.5,487.9 665.6,494.9 666.8,507.5 668.0,501.8 669.1,490.2 670.2,497.2 671.4,501.8 672.6,491.4 673.7,474.1 674.9,464.9 676.0,464.9 677.2,481.0 678.3,490.2 679.5,490.2 680.6,481.0 681.8,485.6 682.9,491.4 684.1,460.3 685.2,448.8 686.4,443.0 687.5,455.7 688.7,451.1 689.8,462.6 691.0,467.2 692.1,473.0 693.3,478.7 694.5,486.8 695.6,478.7 696.8,485.6 697.9,469.5 699.1,462.6 700.2,451.1 701.4,447.6 702.5,445.3 703.7,462.6 704.8,459.1 706.0,460.3 707.1,467.2 708.3,474.1 709.4,462.6 710.6,461.4 711.7,458.0 712.9,452.2 714.0,451.1 715.2,418.8 716.3,421.1 717.5,417.7 718.6,415.4 719.8,416.5 720.9,423.4 722.1,425.7 723.2,422.3 724.4,430.4 725.5,423.4 726.7,422.3 727.9,430.4 729.0,441.9 730.2,448.8 731.3,449.9 732.5,431.5 733.6,446.5 734.8,449.9 735.9,444.2 737.1,438.4 738.2,441.9 739.4,474.1 740.5,491.4 741.7,478.7 742.8,464.9 744.0,462.6 745.1,476.4 746.3,479.9 747.4,469.5 748.6,464.9 749.8,460.3 750.9,456.8 752.0,453.4 753.2,428.0 754.4,426.9 755.5,418.8 756.7,413.1 757.8,423.4 759.0,428.0 760.1,430.4 761.3,432.6 762.4,428.0 763.6,430.4 764.7,439.6 765.9,466.1 767.0,458.0 768.2,453.4 769.3,451.1 770.5,439.6 771.6,432.6 772.8,458.0 773.9,451.1 775.1,456.8 776.2,451.1 777.4,459.1 778.5,453.4 779.7,455.7 780.9,428.0 782.0,462.6 783.2,481.0 784.0,480.7 785.2,499.6 786.4,516.2 787.6,528.0 788.8,528.0 789.9,529.2 791.1,531.6 792.3,537.5 793.5,541.0 794.7,515.0 795.9,516.2 797.0,513.8 798.2,511.5 799.4,494.9 800.6,492.5 801.8,494.9 803.0,483.1 804.1,504.4 805.3,531.6 806.5,518.6 807.7,510.3 808.9,509.1 810.0,504.4 811.2,509.1 812.4,504.4 813.6,505.5 814.8,499.6 816.0,476.0 817.1,463.0 818.3,468.9 819.5,480.7 820.7,476.0 821.9,463.0 823.1,466.5 824.2,478.3 825.4,492.5 826.6,471.2 827.8,468.9 829.0,480.7 830.1,486.6 831.3,474.8 832.5,473.6 833.5,440.5 834.6,435.8 835.8,432.2 837.0,440.5 838.2,435.8 839.4,431.0 840.6,428.7 841.5,427.5 842.7,476.0 843.4,497.3 844.4,497.3 845.3,499.6 846.2,483.1 847.4,473.6 848.6,466.5 849.8,483.1 851.0,480.7 852.2,484.2 853.3,481.9 854.5,493.7 855.7,483.1 856.9,492.5 858.1,485.4 859.2,490.2 860.4,480.7 861.6,487.8 862.8,494.9 864.0,480.7 865.2,476.0 866.4,467.7 867.5,460.6 868.7,466.5 869.9,459.4 871.1,474.8 872.3,458.2 873.5,440.5 874.6,433.4 875.8,427.5 877.0,426.3 878.2,432.2 879.4,435.8 880.5,438.1 881.7,436.9 882.9,442.9 884.1,446.4 885.3,465.3 886.5,440.5 887.6,445.2 888.8,444.0 890.0,453.5 891.2,461.8 892.4,476.0 893.6,480.7 894.7,483.1 895.9,478.3 897.1,486.6 898.3,463.0 899.5,467.7 900.6,473.6 901.8,474.8 903.0,490.2 903.5,506.7 904.7,509.1 905.9,516.2 907.0,525.6 908.2,537.5 909.4,552.9 910.6,542.2 911.8,536.3 913.0,532.8 914.1,535.1 915.3,530.4 916.5,518.6 917.5,535.1 918.6,516.2 919.6,498.4 920.8,506.7 921.9,530.4 923.1,520.9 924.3,516.2 925.5,511.5 926.7,515.0 927.9,509.1 929.0,499.6 930.2,504.4 931.4,507.9 932.6,493.7 933.8,480.7 935.0,476.0 936.1,477.2 937.3,476.0 938.5,481.9 939.7,476.0 940.9,481.9 942.0,465.3 943.2,473.6 944.4,480.7 945.6,471.2 946.8,499.6 948.0,487.8 949.1,471.2 950.3,502.0 951.5,483.1 952.7,471.2 953.9,463.0 955.1,458.2 956.2,459.4 957.4,454.7 958.6,465.3 959.8,476.0 961.0,474.8 962.2,472.4 963.4,468.9 964.5,480.7 965.7,464.1 966.9,472.4 968.1,473.6 969.3,489.0 970.4,481.9 971.6,452.3 972.8,438.1 974.0,433.4 975.2,431.0 976.4,428.7 977.5,432.2 978.7,435.8 979.7,438.1 980.9,445.2 982.1,452.3 983.3,449.9 984.5,447.6 985.6,442.9 986.8,421.6 988.0,416.8 989.2,413.3 990.4,436.9 991.6,419.2 992.7,435.8 993.9,457.1 995.1,461.8 996.3,459.4 997.5,454.7 998.7,467.7 999.8,476.0 1001.0,473.6 1002.2,459.4 1003.4,468.9 1004.6,460.6 1005.8,464.1 1006.9,458.2 1008.1,476.0 1009.3,480.7 1010.5,468.9 1011.7,466.5 1012.9,459.4 1014.0,476.0 1015.2,466.5 1016.4,458.2 1017.6,460.6 1018.8,438.1 1019.5,471.2 1020.4,499.6 1021.6,499.6 1022.8,494.9 1024.0,498.4 1025.2,502.0 1026.3,506.7 1027.5,494.9 1028.7,487.8 1029.9,476.0 1031.1,468.9 1032.2,471.2 1033.4,461.8 1034.6,466.5 1035.8,476.0 1037.0,483.1 1038.2,490.2 1039.3,499.6 1040.5,483.1 1041.7,473.6 1042.9,470.1 1044.1,483.1 1045.3,476.0 1046.5,464.1 1047.6,455.9 1048.8,448.8 1050.0,457.1 1051.2,452.3 1052.4,448.8 1053.5,463.0 1054.7,454.7 1055.9,442.9 1057.1,442.9 1058.3,441.7 1059.5,440.5 1060.6,439.3 1061.8,435.8 1063.0,454.7 1064.2,449.9 1065.4,457.1 1066.5,458.2 1067.7,470.1 1068.9,414.5 1070.1,419.2 1071.3,433.4 1072.5,440.5 1073.7,446.4 1074.8,452.3 1076.0,458.2 1077.2,449.9 1078.4,435.8 1079.6,428.7 1080.8,433.4 1081.9,465.3 1083.1,459.4 1084.3,454.7 1085.5,452.3 1086.7,445.2 1087.8,464.1 1089.0,476.0 1090.2,489.0 1091.4,506.7 1092.6,516.2 1093.8,525.6 1094.9,526.8 1096.1,518.6 1097.3,506.7 1098.5,513.8 1099.7,510.3 1100.9,520.9 1102.0,525.6 1103.2,520.9 1104.4,518.6 1105.6,526.8 1106.8,533.9 1108.0,530.4 1109.1,529.2 1110.3,526.8 1111.5,499.6 1112.7,498.4 1113.9,494.9 1115.0,503.2 1116.2,497.3 1117.4,478.3 1118.6,483.1 1119.8,476.0 1120.5,470.1 1121.7,483.1 1122.9,480.7 1124.0,504.4 1125.2,490.2 1126.4,480.7 1127.6,464.1 1128.8,466.5 1130.0,468.9 1131.1,459.4 1132.3,466.5 1133.5,483.1 1134.7,485.4 1135.9,504.4 1136.3,526.8 1137.5,506.7 1138.7,509.1 1139.9,499.6 1141.1,492.5 1142.3,485.4 1143.4,480.7 1144.6,483.1 1145.8,490.2 1147.0,499.6 1148.2,515.0 1149.4,497.3 1150.5,492.5 1151.7,490.2 1152.9,483.1 1154.1,480.7 1155.3,470.1 1156.5,483.1 1157.6,499.6 1158.8,502.0 1160.0,480.7 1161.2,522.1 1162.4,520.9 1163.5,512.6 1164.7,511.5 1165.9,516.2 1167.1,511.5 1168.3,509.1 1169.5,504.4 1170.4,496.1 1171.4,511.5 1172.5,459.4 1173.5,449.9 1174.5,459.4 1175.7,457.1 1176.8,464.1 1178.0,471.2 1178.7,446.4 1179.7,445.2 1180.8,442.9 1181.6,441.7 1182.7,447.6 1183.9,445.2 1185.1,447.6 1186.3,444.0 1187.5,442.9 1188.7,461.8 1189.8,465.3 1191.0,454.7 1192.2,451.1 1193.4,452.3 1194.6,444.0 1195.8,449.9 1196.5,464.1 1197.4,459.4 1198.6,449.9 1199.8,455.9 1201.0,468.9 1202.1,472.4 1203.3,473.6 1204.0,487.8 1205.2,485.4 1206.4,490.2 1207.6,494.9 1208.8,502.0 1210.0,494.9 1211.1,504.4 1212.3,509.1 1213.5,489.0 1214.7,506.7 1215.4,535.1 1216.6,532.8 1217.5,537.5 1218.7,532.8 1219.9,538.7 1221.1,523.3 1222.2,520.9 1223.4,519.7 1224.6,533.9 1225.8,528.0 1227.0,535.1 1227.7,542.2 1228.9,523.3 1230.1,504.4 1231.2,502.0 1232.4,485.4 1233.6,480.7 1234.8,476.0 1236.0,471.2 1237.2,473.6 1238.3,466.5 1239.5,489.0 1240.7,476.0 1241.9,464.1 1243.1,461.8 1244.2,459.4 1245.4,464.1 1246.6,467.7 1247.8,480.7 1249.0,487.8 1250.2,494.9 1251.3,473.6 1252.1,483.1 1253.2,499.6 1254.4,504.4 1255.6,509.1 1256.8,513.8 1257.7,511.5 1258.7,525.6 1259.6,483.1 1260.6,459.4 1261.5,457.1" fill="none" stroke="#7e57c2" stroke-width="1" stroke-linejoin="round"/>
<path d="M7 393.5H1341M7 569.5H1341M1271.5 44V597" stroke="#dcdee0" stroke-width="1" shape-rendering="crispEdges"/>
<path d="M1272 49.5H1276M1272 90.5H1276M1272 133.5H1276M1272 178.5H1276M1272 225.5H1276M1272 276.5H1276M1272 308.5H1276M1272 341.5H1276M1272 376.5H1276M1272 403.5H1276M1272 450.5H1276M1272 497.5H1276M1272 544.5H1276M84.5 570V574M207.5 570V574M290.5 570V574M372.5 570V574M496.5 570V574M620.5 570V574M702.5 570V574M785.5 570V574M867.5 570V574M950.5 570V574M1074.5 570V574M1156.5 570V574M1239.5 570V574" stroke="#dcdee0" stroke-width="1" shape-rendering="crispEdges"/>
<rect x="6.5" y="43.5" width="1335" height="554" fill="none" stroke="#000" stroke-width="1" shape-rendering="crispEdges"/>
<text x="1281" y="53.7" font-size="12" fill="#131722" textLength="48" lengthAdjust="spacingAndGlyphs">42000.00</text><text x="1281" y="94.4" font-size="12" fill="#131722" textLength="48" lengthAdjust="spacingAndGlyphs">40000.00</text><text x="1281" y="137.3" font-size="12" fill="#131722" textLength="48" lengthAdjust="spacingAndGlyphs">38000.00</text><text x="1281" y="182.4" font-size="12" fill="#131722" textLength="48" lengthAdjust="spacingAndGlyphs">36000.00</text><text x="1281" y="230.1" font-size="12" fill="#131722" textLength="48" lengthAdjust="spacingAndGlyphs">34000.00</text><text x="1281" y="280.8" font-size="12" fill="#131722" textLength="48" lengthAdjust="spacingAndGlyphs">32000.00</text><text x="1281" y="312.7" font-size="12" fill="#131722" textLength="48" lengthAdjust="spacingAndGlyphs">30800.00</text><text x="1281" y="345.9" font-size="12" fill="#131722" textLength="48" lengthAdjust="spacingAndGlyphs">29600.00</text><text x="1281" y="380.4" font-size="12" fill="#131722" textLength="48" lengthAdjust="spacingAndGlyphs">28400.00</text><text x="1281" y="407.5" font-size="12" fill="#131722" textLength="30" lengthAdjust="spacingAndGlyphs">80.00</text><text x="1281" y="454.5" font-size="12" fill="#131722" textLength="30" lengthAdjust="spacingAndGlyphs">60.00</text><text x="1281" y="501.5" font-size="12" fill="#131722" textLength="30" lengthAdjust="spacingAndGlyphs">40.00</text><text x="1281" y="547.5" font-size="12" fill="#131722" textLength="30" lengthAdjust="spacingAndGlyphs">20.00</text><text x="84.3" y="587" font-size="12" fill="#131722" text-anchor="middle">18</text><text x="207.3" y="587" font-size="12" fill="#131722" text-anchor="middle">21</text><text x="290.3" y="587" font-size="12" fill="#131722" text-anchor="middle">23</text><text x="372.3" y="587" font-size="12" fill="#131722" text-anchor="middle">25</text><text x="496.3" y="587" font-size="12" fill="#131722" text-anchor="middle">28</text><text x="620.3" y="587" font-size="12" fill="#131722" text-anchor="middle">Jul</text><text x="702.3" y="587" font-size="12" fill="#131722" text-anchor="middle">3</text><text x="785.3" y="587" font-size="12" fill="#131722" text-anchor="middle">5</text><text x="867.3" y="587" font-size="12" fill="#131722" text-anchor="middle">7</text><text x="950.3" y="587" font-size="12" fill="#131722" text-anchor="middle">9</text><text x="1074.3" y="587" font-size="12" fill="#131722" text-anchor="middle">12</text><text x="1156.3" y="587" font-size="12" fill="#131722" text-anchor="middle">14</text><text x="1239.3" y="587" font-size="12" fill="#131722" text-anchor="middle">16</text>
<rect x="1288.5" y="50.5" width="35" height="18" rx="3" fill="#fff" stroke="#e0e3eb"/>
<text x="1292.5" y="63.5" font-size="12" fill="#131722" textLength="27" lengthAdjust="spacingAndGlyphs">USDT</text>
<path d="M1270 273V290H1212a2 2 0 0 1 -2 -2V275a2 2 0 0 1 2 -2Z" fill="#26a69a"/>
<text x="1214.5" y="286" font-size="12" fill="#fff" font-weight="bold" textLength="49.5" lengthAdjust="spacingAndGlyphs">BTCUSDT</text>
<path d="M1272 273H1334a2 2 0 0 1 2 2V288a2 2 0 0 1 -2 2H1272Z" fill="#26a69a"/>
<path d="M1272 281.5H1276" stroke="#fff" stroke-opacity="0.8" stroke-width="1"/>
<text x="1282" y="286" font-size="12" fill="#fff" font-weight="bold" textLength="49" lengthAdjust="spacingAndGlyphs">31806.44</text>
<text x="15.5" y="64.8" font-size="13" fill="#131722" font-weight="bold" textLength="187" lengthAdjust="spacingAndGlyphs">Bitcoin / TetherUS, 30, BINANCE</text>
<text x="15.5" y="415.3" font-size="13" fill="#131722" textLength="77" lengthAdjust="spacingAndGlyphs">RSI (14, close)</text>
<text x="6" y="16.7" font-size="12.5" fill="#131722" font-weight="bold" textLength="59.4" lengthAdjust="spacingAndGlyphs">JJSparrow</text>
<text x="69.3" y="16.7" font-size="12.5" fill="#131722" textLength="329.8" lengthAdjust="spacingAndGlyphs">published on TradingView.com, July 16, 2021 13:27:58 UTC</text>
<text x="6.5" y="33.7" font-size="12.5" fill="#131722" font-weight="bold" textLength="130.5" lengthAdjust="spacingAndGlyphs">BINANCE:BTCUSDT, 30</text>
<text x="142.4" y="33.7" font-size="12.5" fill="#131722" font-weight="normal" textLength="52.0" lengthAdjust="spacingAndGlyphs">31812.91</text>
<text x="212.2" y="33.7" font-size="12.5" fill="#131722" font-weight="normal" textLength="91.1" lengthAdjust="spacingAndGlyphs">−67.09 (−0.21%)</text>
<text x="307.1" y="33.7" font-size="12.5" fill="#131722" font-weight="bold" textLength="11.9" lengthAdjust="spacingAndGlyphs">O:</text>
<text x="321.5" y="33.7" font-size="12.5" fill="#ef5350" font-weight="normal" textLength="52.7" lengthAdjust="spacingAndGlyphs">31714.06</text>
<text x="379.5" y="33.7" font-size="12.5" fill="#131722" font-weight="bold" textLength="11.0" lengthAdjust="spacingAndGlyphs">H:</text>
<text x="393.5" y="33.7" font-size="12.5" fill="#ef5350" font-weight="normal" textLength="51.9" lengthAdjust="spacingAndGlyphs">31969.00</text>
<text x="450.7" y="33.7" font-size="12.5" fill="#131722" font-weight="bold" textLength="8.1" lengthAdjust="spacingAndGlyphs">L:</text>
<text x="461.7" y="33.7" font-size="12.5" fill="#ef5350" font-weight="normal" textLength="51.3" lengthAdjust="spacingAndGlyphs">31708.79</text>
<text x="519" y="33.7" font-size="12.5" fill="#131722" font-weight="bold" textLength="9.5" lengthAdjust="spacingAndGlyphs">C:</text>
<text x="530.9" y="33.7" font-size="12.5" fill="#ef5350" font-weight="normal" textLength="51.6" lengthAdjust="spacingAndGlyphs">31806.44</text>
<path d="M197 25.5H208L202.5 34.5Z" fill="#ef5350"/>
<g transform="translate(6,607.5)"><path d="M3 15.5C0.5 15.5 0 13 0.3 11.5C0.8 9 2.5 8 4.5 7.8C6 3.5 8.5 0 12.5 0C16.5 0 18.5 2.5 20 5C23.5 5 25.5 7.5 26 10.5C26.5 13.5 24.5 15.5 22.5 15.5Z" fill="#2962ff"/><path d="M1.2 14.6L10 6.1L16 12L22.8 5.2" stroke="#fff" stroke-width="1.1" fill="none"/><circle cx="10" cy="6.1" r="1.4" fill="#fff"/><circle cx="16" cy="12" r="1.4" fill="#fff"/></g>
<text x="34" y="620" font-size="13" fill="#131722" textLength="70" lengthAdjust="spacingAndGlyphs">TradingView</text>
</svg></body></html>
